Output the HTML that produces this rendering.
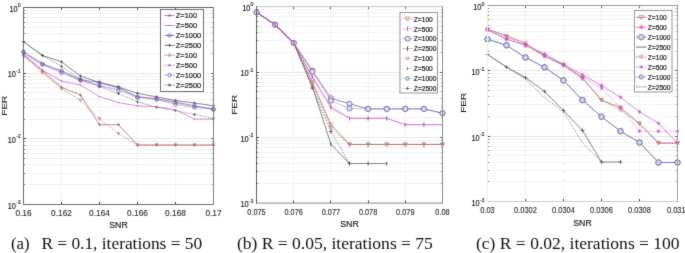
<!DOCTYPE html>
<html><head><meta charset="utf-8"><title>FER vs SNR</title>
<style>html,body{margin:0;padding:0;background:#fff;}body{width:685px;height:253px;overflow:hidden;}svg{display:block;}</style>
</head><body>
<div id="fig">
<svg width="685" height="253" viewBox="0 0 685 253">
<defs><filter id="bl" x="0" y="0" width="685" height="253" filterUnits="userSpaceOnUse" color-interpolation-filters="sRGB"><feConvolveMatrix order="3" kernelMatrix="0.0113 0.0838 0.0113 0.0838 0.6193 0.0838 0.0113 0.0838 0.0113" edgeMode="duplicate" preserveAlpha="true"/></filter></defs>
<g filter="url(#bl)">
<rect width="685" height="253" fill="#fff"/>
<g><line x1="24" y1="53.50" x2="213.50" y2="53.50" stroke="#e3e3e3" stroke-width="1" stroke-dasharray="1 1"/>
<line x1="23.50" y1="53.50" x2="25.10" y2="53.50" stroke="#666" stroke-width="0.9"/>
<line x1="211.90" y1="53.50" x2="213.50" y2="53.50" stroke="#999" stroke-width="0.9"/>
<line x1="24" y1="41.50" x2="213.50" y2="41.50" stroke="#e3e3e3" stroke-width="1" stroke-dasharray="1 1"/>
<line x1="23.50" y1="41.50" x2="25.10" y2="41.50" stroke="#666" stroke-width="0.9"/>
<line x1="211.90" y1="41.50" x2="213.50" y2="41.50" stroke="#999" stroke-width="0.9"/>
<line x1="24" y1="33.50" x2="213.50" y2="33.50" stroke="#e3e3e3" stroke-width="1" stroke-dasharray="1 1"/>
<line x1="23.50" y1="33.50" x2="25.10" y2="33.50" stroke="#666" stroke-width="0.9"/>
<line x1="211.90" y1="33.50" x2="213.50" y2="33.50" stroke="#999" stroke-width="0.9"/>
<line x1="24" y1="27.50" x2="213.50" y2="27.50" stroke="#e3e3e3" stroke-width="1" stroke-dasharray="1 1"/>
<line x1="23.50" y1="27.50" x2="25.10" y2="27.50" stroke="#666" stroke-width="0.9"/>
<line x1="211.90" y1="27.50" x2="213.50" y2="27.50" stroke="#999" stroke-width="0.9"/>
<line x1="24" y1="22.50" x2="213.50" y2="22.50" stroke="#e3e3e3" stroke-width="1" stroke-dasharray="1 1"/>
<line x1="23.50" y1="22.50" x2="25.10" y2="22.50" stroke="#666" stroke-width="0.9"/>
<line x1="211.90" y1="22.50" x2="213.50" y2="22.50" stroke="#999" stroke-width="0.9"/>
<line x1="24" y1="17.50" x2="213.50" y2="17.50" stroke="#e3e3e3" stroke-width="1" stroke-dasharray="1 1"/>
<line x1="23.50" y1="17.50" x2="25.10" y2="17.50" stroke="#666" stroke-width="0.9"/>
<line x1="211.90" y1="17.50" x2="213.50" y2="17.50" stroke="#999" stroke-width="0.9"/>
<line x1="24" y1="13.50" x2="213.50" y2="13.50" stroke="#e3e3e3" stroke-width="1" stroke-dasharray="1 1"/>
<line x1="23.50" y1="13.50" x2="25.10" y2="13.50" stroke="#666" stroke-width="0.9"/>
<line x1="211.90" y1="13.50" x2="213.50" y2="13.50" stroke="#999" stroke-width="0.9"/>
<line x1="24" y1="10.50" x2="213.50" y2="10.50" stroke="#e3e3e3" stroke-width="1" stroke-dasharray="1 1"/>
<line x1="23.50" y1="10.50" x2="25.10" y2="10.50" stroke="#666" stroke-width="0.9"/>
<line x1="211.90" y1="10.50" x2="213.50" y2="10.50" stroke="#999" stroke-width="0.9"/>
<line x1="24" y1="119.50" x2="213.50" y2="119.50" stroke="#e3e3e3" stroke-width="1" stroke-dasharray="1 1"/>
<line x1="23.50" y1="119.50" x2="25.10" y2="119.50" stroke="#666" stroke-width="0.9"/>
<line x1="211.90" y1="119.50" x2="213.50" y2="119.50" stroke="#999" stroke-width="0.9"/>
<line x1="24" y1="107.50" x2="213.50" y2="107.50" stroke="#e3e3e3" stroke-width="1" stroke-dasharray="1 1"/>
<line x1="23.50" y1="107.50" x2="25.10" y2="107.50" stroke="#666" stroke-width="0.9"/>
<line x1="211.90" y1="107.50" x2="213.50" y2="107.50" stroke="#999" stroke-width="0.9"/>
<line x1="24" y1="99.50" x2="213.50" y2="99.50" stroke="#e3e3e3" stroke-width="1" stroke-dasharray="1 1"/>
<line x1="23.50" y1="99.50" x2="25.10" y2="99.50" stroke="#666" stroke-width="0.9"/>
<line x1="211.90" y1="99.50" x2="213.50" y2="99.50" stroke="#999" stroke-width="0.9"/>
<line x1="24" y1="92.50" x2="213.50" y2="92.50" stroke="#e3e3e3" stroke-width="1" stroke-dasharray="1 1"/>
<line x1="23.50" y1="92.50" x2="25.10" y2="92.50" stroke="#666" stroke-width="0.9"/>
<line x1="211.90" y1="92.50" x2="213.50" y2="92.50" stroke="#999" stroke-width="0.9"/>
<line x1="24" y1="87.50" x2="213.50" y2="87.50" stroke="#e3e3e3" stroke-width="1" stroke-dasharray="1 1"/>
<line x1="23.50" y1="87.50" x2="25.10" y2="87.50" stroke="#666" stroke-width="0.9"/>
<line x1="211.90" y1="87.50" x2="213.50" y2="87.50" stroke="#999" stroke-width="0.9"/>
<line x1="24" y1="83.50" x2="213.50" y2="83.50" stroke="#e3e3e3" stroke-width="1" stroke-dasharray="1 1"/>
<line x1="23.50" y1="83.50" x2="25.10" y2="83.50" stroke="#666" stroke-width="0.9"/>
<line x1="211.90" y1="83.50" x2="213.50" y2="83.50" stroke="#999" stroke-width="0.9"/>
<line x1="24" y1="79.50" x2="213.50" y2="79.50" stroke="#e3e3e3" stroke-width="1" stroke-dasharray="1 1"/>
<line x1="23.50" y1="79.50" x2="25.10" y2="79.50" stroke="#666" stroke-width="0.9"/>
<line x1="211.90" y1="79.50" x2="213.50" y2="79.50" stroke="#999" stroke-width="0.9"/>
<line x1="24" y1="76.50" x2="213.50" y2="76.50" stroke="#e3e3e3" stroke-width="1" stroke-dasharray="1 1"/>
<line x1="23.50" y1="76.50" x2="25.10" y2="76.50" stroke="#666" stroke-width="0.9"/>
<line x1="211.90" y1="76.50" x2="213.50" y2="76.50" stroke="#999" stroke-width="0.9"/>
<line x1="24" y1="184.50" x2="213.50" y2="184.50" stroke="#e3e3e3" stroke-width="1" stroke-dasharray="1 1"/>
<line x1="23.50" y1="184.50" x2="25.10" y2="184.50" stroke="#666" stroke-width="0.9"/>
<line x1="211.90" y1="184.50" x2="213.50" y2="184.50" stroke="#999" stroke-width="0.9"/>
<line x1="24" y1="173.50" x2="213.50" y2="173.50" stroke="#e3e3e3" stroke-width="1" stroke-dasharray="1 1"/>
<line x1="23.50" y1="173.50" x2="25.10" y2="173.50" stroke="#666" stroke-width="0.9"/>
<line x1="211.90" y1="173.50" x2="213.50" y2="173.50" stroke="#999" stroke-width="0.9"/>
<line x1="24" y1="164.50" x2="213.50" y2="164.50" stroke="#e3e3e3" stroke-width="1" stroke-dasharray="1 1"/>
<line x1="23.50" y1="164.50" x2="25.10" y2="164.50" stroke="#666" stroke-width="0.9"/>
<line x1="211.90" y1="164.50" x2="213.50" y2="164.50" stroke="#999" stroke-width="0.9"/>
<line x1="24" y1="158.50" x2="213.50" y2="158.50" stroke="#e3e3e3" stroke-width="1" stroke-dasharray="1 1"/>
<line x1="23.50" y1="158.50" x2="25.10" y2="158.50" stroke="#666" stroke-width="0.9"/>
<line x1="211.90" y1="158.50" x2="213.50" y2="158.50" stroke="#999" stroke-width="0.9"/>
<line x1="24" y1="153.50" x2="213.50" y2="153.50" stroke="#e3e3e3" stroke-width="1" stroke-dasharray="1 1"/>
<line x1="23.50" y1="153.50" x2="25.10" y2="153.50" stroke="#666" stroke-width="0.9"/>
<line x1="211.90" y1="153.50" x2="213.50" y2="153.50" stroke="#999" stroke-width="0.9"/>
<line x1="24" y1="149.50" x2="213.50" y2="149.50" stroke="#e3e3e3" stroke-width="1" stroke-dasharray="1 1"/>
<line x1="23.50" y1="149.50" x2="25.10" y2="149.50" stroke="#666" stroke-width="0.9"/>
<line x1="211.90" y1="149.50" x2="213.50" y2="149.50" stroke="#999" stroke-width="0.9"/>
<line x1="24" y1="145.50" x2="213.50" y2="145.50" stroke="#e3e3e3" stroke-width="1" stroke-dasharray="1 1"/>
<line x1="23.50" y1="145.50" x2="25.10" y2="145.50" stroke="#666" stroke-width="0.9"/>
<line x1="211.90" y1="145.50" x2="213.50" y2="145.50" stroke="#999" stroke-width="0.9"/>
<line x1="24" y1="141.50" x2="213.50" y2="141.50" stroke="#e3e3e3" stroke-width="1" stroke-dasharray="1 1"/>
<line x1="23.50" y1="141.50" x2="25.10" y2="141.50" stroke="#666" stroke-width="0.9"/>
<line x1="211.90" y1="141.50" x2="213.50" y2="141.50" stroke="#999" stroke-width="0.9"/>
<line x1="23.50" y1="73.50" x2="213.50" y2="73.50" stroke="#e6e6e6" stroke-width="1"/>
<line x1="23.50" y1="73.50" x2="26.00" y2="73.50" stroke="#444" stroke-width="1"/>
<line x1="211.00" y1="73.50" x2="213.50" y2="73.50" stroke="#666" stroke-width="1"/>
<line x1="23.50" y1="138.50" x2="213.50" y2="138.50" stroke="#e6e6e6" stroke-width="1"/>
<line x1="23.50" y1="138.50" x2="26.00" y2="138.50" stroke="#444" stroke-width="1"/>
<line x1="211.00" y1="138.50" x2="213.50" y2="138.50" stroke="#666" stroke-width="1"/>
<line x1="61.50" y1="7.50" x2="61.50" y2="204.50" stroke="#f3f3f3" stroke-width="1"/>
<line x1="61.50" y1="202.00" x2="61.50" y2="204.50" stroke="#444" stroke-width="1"/>
<line x1="61.50" y1="7.50" x2="61.50" y2="10.00" stroke="#666" stroke-width="1"/>
<line x1="99.50" y1="7.50" x2="99.50" y2="204.50" stroke="#f3f3f3" stroke-width="1"/>
<line x1="99.50" y1="202.00" x2="99.50" y2="204.50" stroke="#444" stroke-width="1"/>
<line x1="99.50" y1="7.50" x2="99.50" y2="10.00" stroke="#666" stroke-width="1"/>
<line x1="137.50" y1="7.50" x2="137.50" y2="204.50" stroke="#f3f3f3" stroke-width="1"/>
<line x1="137.50" y1="202.00" x2="137.50" y2="204.50" stroke="#444" stroke-width="1"/>
<line x1="137.50" y1="7.50" x2="137.50" y2="10.00" stroke="#666" stroke-width="1"/>
<line x1="175.50" y1="7.50" x2="175.50" y2="204.50" stroke="#f3f3f3" stroke-width="1"/>
<line x1="175.50" y1="202.00" x2="175.50" y2="204.50" stroke="#444" stroke-width="1"/>
<line x1="175.50" y1="7.50" x2="175.50" y2="10.00" stroke="#666" stroke-width="1"/>
<polyline points="23.50,41.80 42.50,55.50 61.50,61.80 80.50,76.00 99.50,82.60 118.50,87.10 137.50,93.30 156.50,96.90 175.50,100.50 194.50,103.00 213.50,105.80" fill="none" stroke="#505050" stroke-width="0.7"/>
<path d="M22.00,41.80H25.00M23.50,40.30V43.30" stroke="#505050" stroke-width="0.8"/>
<path d="M41.00,55.50H44.00M42.50,54.00V57.00" stroke="#505050" stroke-width="0.8"/>
<path d="M60.00,61.80H63.00M61.50,60.30V63.30" stroke="#505050" stroke-width="0.8"/>
<path d="M79.00,76.00H82.00M80.50,74.50V77.50" stroke="#505050" stroke-width="0.8"/>
<path d="M98.00,82.60H101.00M99.50,81.10V84.10" stroke="#505050" stroke-width="0.8"/>
<path d="M117.00,87.10H120.00M118.50,85.60V88.60" stroke="#505050" stroke-width="0.8"/>
<path d="M136.00,93.30H139.00M137.50,91.80V94.80" stroke="#505050" stroke-width="0.8"/>
<path d="M155.00,96.90H158.00M156.50,95.40V98.40" stroke="#505050" stroke-width="0.8"/>
<path d="M174.00,100.50H177.00M175.50,99.00V102.00" stroke="#505050" stroke-width="0.8"/>
<path d="M193.00,103.00H196.00M194.50,101.50V104.50" stroke="#505050" stroke-width="0.8"/>
<path d="M212.00,105.80H215.00M213.50,104.30V107.30" stroke="#505050" stroke-width="0.8"/>
<polyline points="23.50,41.80 42.50,55.50 61.50,66.30 80.50,79.00 99.50,86.50 118.50,93.60 137.50,101.90 156.50,107.20 175.50,110.50 194.50,114.50 213.50,118.30" fill="none" stroke="#505050" stroke-width="0.6" stroke-dasharray="1.6 1.2"/>
<path d="M22.00,41.80H25.00M23.50,40.30V43.30" stroke="#505050" stroke-width="0.8"/>
<path d="M41.00,55.50H44.00M42.50,54.00V57.00" stroke="#505050" stroke-width="0.8"/>
<path d="M60.00,66.30H63.00M61.50,64.80V67.80" stroke="#505050" stroke-width="0.8"/>
<path d="M79.00,79.00H82.00M80.50,77.50V80.50" stroke="#505050" stroke-width="0.8"/>
<path d="M98.00,86.50H101.00M99.50,85.00V88.00" stroke="#505050" stroke-width="0.8"/>
<path d="M117.00,93.60H120.00M118.50,92.10V95.10" stroke="#505050" stroke-width="0.8"/>
<path d="M136.00,101.90H139.00M137.50,100.40V103.40" stroke="#505050" stroke-width="0.8"/>
<path d="M155.00,107.20H158.00M156.50,105.70V108.70" stroke="#505050" stroke-width="0.8"/>
<path d="M174.00,110.50H177.00M175.50,109.00V112.00" stroke="#505050" stroke-width="0.8"/>
<path d="M193.00,114.50H196.00M194.50,113.00V116.00" stroke="#505050" stroke-width="0.8"/>
<path d="M212.00,118.30H215.00M213.50,116.80V119.80" stroke="#505050" stroke-width="0.8"/>
<polyline points="23.50,54.80 42.50,70.90 61.50,87.30 80.50,95.10 99.50,124.70 118.50,124.70 137.50,145.00 156.50,145.00 175.50,145.00 194.50,145.00 213.50,145.00" fill="none" stroke="#a85a58" stroke-width="0.7"/>
<path d="M22.00,54.80H25.00M23.50,53.30V56.30" stroke="#a85a58" stroke-width="0.8"/>
<path d="M41.00,70.90H44.00M42.50,69.40V72.40" stroke="#a85a58" stroke-width="0.8"/>
<path d="M60.00,87.30H63.00M61.50,85.80V88.80" stroke="#a85a58" stroke-width="0.8"/>
<path d="M79.00,95.10H82.00M80.50,93.60V96.60" stroke="#a85a58" stroke-width="0.8"/>
<path d="M98.00,124.70H101.00M99.50,123.20V126.20" stroke="#a85a58" stroke-width="0.8"/>
<path d="M117.00,124.70H120.00M118.50,123.20V126.20" stroke="#a85a58" stroke-width="0.8"/>
<path d="M136.00,145.00H139.00M137.50,143.50V146.50" stroke="#a85a58" stroke-width="0.8"/>
<path d="M155.00,145.00H158.00M156.50,143.50V146.50" stroke="#a85a58" stroke-width="0.8"/>
<path d="M174.00,145.00H177.00M175.50,143.50V146.50" stroke="#a85a58" stroke-width="0.8"/>
<path d="M193.00,145.00H196.00M194.50,143.50V146.50" stroke="#a85a58" stroke-width="0.8"/>
<path d="M212.00,145.00H215.00M213.50,143.50V146.50" stroke="#a85a58" stroke-width="0.8"/>
<polyline points="23.50,56.30 42.50,72.80 61.50,88.70 80.50,100.30 99.50,118.80 118.50,133.70 137.50,145.00 156.50,145.00 175.50,145.00 194.50,145.00 213.50,145.00" fill="none" stroke="#a85a58" stroke-width="0.6" stroke-dasharray="1.6 1.2"/>
<path d="M22.00,55.10L25.00,55.10L23.50,57.80Z" fill="none" stroke="#c47a78" stroke-width="0.7"/>
<path d="M41.00,71.60L44.00,71.60L42.50,74.30Z" fill="none" stroke="#c47a78" stroke-width="0.7"/>
<path d="M60.00,87.50L63.00,87.50L61.50,90.20Z" fill="none" stroke="#c47a78" stroke-width="0.7"/>
<path d="M79.00,99.10L82.00,99.10L80.50,101.80Z" fill="none" stroke="#c47a78" stroke-width="0.7"/>
<path d="M98.00,117.60L101.00,117.60L99.50,120.30Z" fill="none" stroke="#c47a78" stroke-width="0.7"/>
<path d="M117.00,132.50L120.00,132.50L118.50,135.20Z" fill="none" stroke="#c47a78" stroke-width="0.7"/>
<path d="M136.00,143.80L139.00,143.80L137.50,146.50Z" fill="none" stroke="#c47a78" stroke-width="0.7"/>
<path d="M155.00,143.80L158.00,143.80L156.50,146.50Z" fill="none" stroke="#c47a78" stroke-width="0.7"/>
<path d="M174.00,143.80L177.00,143.80L175.50,146.50Z" fill="none" stroke="#c47a78" stroke-width="0.7"/>
<path d="M193.00,143.80L196.00,143.80L194.50,146.50Z" fill="none" stroke="#c47a78" stroke-width="0.7"/>
<path d="M212.00,143.80L215.00,143.80L213.50,146.50Z" fill="none" stroke="#c47a78" stroke-width="0.7"/>
<polyline points="23.50,52.10 42.50,63.80 61.50,70.70 80.50,79.70 99.50,82.60 118.50,87.70 137.50,96.90 156.50,98.70 175.50,102.20 194.50,105.80 213.50,109.40" fill="none" stroke="#5a5aa4" stroke-width="0.7"/>
<circle cx="23.50" cy="52.10" r="1.80" fill="none" stroke="#5a5aa4" stroke-width="0.7"/>
<circle cx="42.50" cy="63.80" r="1.80" fill="none" stroke="#5a5aa4" stroke-width="0.7"/>
<circle cx="61.50" cy="70.70" r="1.80" fill="none" stroke="#5a5aa4" stroke-width="0.7"/>
<circle cx="80.50" cy="79.70" r="1.80" fill="none" stroke="#5a5aa4" stroke-width="0.7"/>
<circle cx="99.50" cy="82.60" r="1.80" fill="none" stroke="#5a5aa4" stroke-width="0.7"/>
<circle cx="118.50" cy="87.70" r="1.80" fill="none" stroke="#5a5aa4" stroke-width="0.7"/>
<circle cx="137.50" cy="96.90" r="1.80" fill="none" stroke="#5a5aa4" stroke-width="0.7"/>
<circle cx="156.50" cy="98.70" r="1.80" fill="none" stroke="#5a5aa4" stroke-width="0.7"/>
<circle cx="175.50" cy="102.20" r="1.80" fill="none" stroke="#5a5aa4" stroke-width="0.7"/>
<circle cx="194.50" cy="105.80" r="1.80" fill="none" stroke="#5a5aa4" stroke-width="0.7"/>
<circle cx="213.50" cy="109.40" r="1.80" fill="none" stroke="#5a5aa4" stroke-width="0.7"/>
<polyline points="23.50,52.10 42.50,64.50 61.50,72.80 80.50,80.50 99.50,85.80 118.50,90.60 137.50,97.50 156.50,99.50 175.50,104.50 194.50,107.50 213.50,109.40" fill="none" stroke="#5a5aa4" stroke-width="0.6" stroke-dasharray="1.6 1.2"/>
<circle cx="23.50" cy="52.10" r="1.80" fill="none" stroke="#5a5aa4" stroke-width="0.7"/>
<circle cx="42.50" cy="64.50" r="1.80" fill="none" stroke="#5a5aa4" stroke-width="0.7"/>
<circle cx="61.50" cy="72.80" r="1.80" fill="none" stroke="#5a5aa4" stroke-width="0.7"/>
<circle cx="80.50" cy="80.50" r="1.80" fill="none" stroke="#5a5aa4" stroke-width="0.7"/>
<circle cx="99.50" cy="85.80" r="1.80" fill="none" stroke="#5a5aa4" stroke-width="0.7"/>
<circle cx="118.50" cy="90.60" r="1.80" fill="none" stroke="#5a5aa4" stroke-width="0.7"/>
<circle cx="137.50" cy="97.50" r="1.80" fill="none" stroke="#5a5aa4" stroke-width="0.7"/>
<circle cx="156.50" cy="99.50" r="1.80" fill="none" stroke="#5a5aa4" stroke-width="0.7"/>
<circle cx="175.50" cy="104.50" r="1.80" fill="none" stroke="#5a5aa4" stroke-width="0.7"/>
<circle cx="194.50" cy="107.50" r="1.80" fill="none" stroke="#5a5aa4" stroke-width="0.7"/>
<circle cx="213.50" cy="109.40" r="1.80" fill="none" stroke="#5a5aa4" stroke-width="0.7"/>
<polyline points="23.50,54.80 42.50,70.10 61.50,81.10 80.50,85.00 99.50,96.70 118.50,102.60 137.50,105.80 156.50,106.70 175.50,109.90 194.50,119.10 213.50,119.10" fill="none" stroke="#cc55cc" stroke-width="0.7"/>
<circle cx="23.50" cy="54.80" r="0.75" fill="#cc55cc"/>
<circle cx="42.50" cy="70.10" r="0.75" fill="#cc55cc"/>
<circle cx="61.50" cy="81.10" r="0.75" fill="#cc55cc"/>
<circle cx="80.50" cy="85.00" r="0.75" fill="#cc55cc"/>
<circle cx="99.50" cy="96.70" r="0.75" fill="#cc55cc"/>
<circle cx="118.50" cy="102.60" r="0.75" fill="#cc55cc"/>
<circle cx="137.50" cy="105.80" r="0.75" fill="#cc55cc"/>
<circle cx="156.50" cy="106.70" r="0.75" fill="#cc55cc"/>
<circle cx="175.50" cy="109.90" r="0.75" fill="#cc55cc"/>
<circle cx="194.50" cy="119.10" r="0.75" fill="#cc55cc"/>
<circle cx="213.50" cy="119.10" r="0.75" fill="#cc55cc"/>
<polyline points="23.50,54.00 42.50,65.00 61.50,72.00 80.50,80.80 99.50,85.20 118.50,89.60 137.50,96.50 156.50,99.00 175.50,103.50 194.50,106.50 213.50,108.50" fill="none" stroke="#cc55cc" stroke-width="0.6" stroke-dasharray="1.6 1.2"/>
<circle cx="23.50" cy="54.00" r="0.75" fill="#cc55cc"/>
<circle cx="42.50" cy="65.00" r="0.75" fill="#cc55cc"/>
<circle cx="61.50" cy="72.00" r="0.75" fill="#cc55cc"/>
<circle cx="80.50" cy="80.80" r="0.75" fill="#cc55cc"/>
<circle cx="99.50" cy="85.20" r="0.75" fill="#cc55cc"/>
<circle cx="118.50" cy="89.60" r="0.75" fill="#cc55cc"/>
<circle cx="137.50" cy="96.50" r="0.75" fill="#cc55cc"/>
<circle cx="156.50" cy="99.00" r="0.75" fill="#cc55cc"/>
<circle cx="175.50" cy="103.50" r="0.75" fill="#cc55cc"/>
<circle cx="194.50" cy="106.50" r="0.75" fill="#cc55cc"/>
<circle cx="213.50" cy="108.50" r="0.75" fill="#cc55cc"/>
<line x1="23.50" y1="7.50" x2="213.50" y2="7.50" stroke="#606060" stroke-width="1"/>
<line x1="23.50" y1="204.50" x2="213.50" y2="204.50" stroke="#6a6a6a" stroke-width="1"/>
<line x1="213.50" y1="7.00" x2="213.50" y2="205.00" stroke="#808080" stroke-width="1"/>
<line x1="23.50" y1="7.00" x2="23.50" y2="205.00" stroke="#6a6a6a" stroke-width="1"/>
<text x="23.50" y="216.00" text-anchor="middle" font-size="8.3" font-family="'Liberation Sans', Arial, sans-serif" fill="#2a2a2a" stroke="#2a2a2a" stroke-width="0.12" transform="translate(23.50,0) scale(1.0,1) translate(-23.50,0)">0.16</text>
<text x="61.50" y="216.00" text-anchor="middle" font-size="8.3" font-family="'Liberation Sans', Arial, sans-serif" fill="#2a2a2a" stroke="#2a2a2a" stroke-width="0.12" transform="translate(61.50,0) scale(1.0,1) translate(-61.50,0)">0.162</text>
<text x="99.50" y="216.00" text-anchor="middle" font-size="8.3" font-family="'Liberation Sans', Arial, sans-serif" fill="#2a2a2a" stroke="#2a2a2a" stroke-width="0.12" transform="translate(99.50,0) scale(1.0,1) translate(-99.50,0)">0.164</text>
<text x="137.50" y="216.00" text-anchor="middle" font-size="8.3" font-family="'Liberation Sans', Arial, sans-serif" fill="#2a2a2a" stroke="#2a2a2a" stroke-width="0.12" transform="translate(137.50,0) scale(1.0,1) translate(-137.50,0)">0.166</text>
<text x="175.50" y="216.00" text-anchor="middle" font-size="8.3" font-family="'Liberation Sans', Arial, sans-serif" fill="#2a2a2a" stroke="#2a2a2a" stroke-width="0.12" transform="translate(175.50,0) scale(1.0,1) translate(-175.50,0)">0.168</text>
<text x="213.50" y="216.00" text-anchor="middle" font-size="8.3" font-family="'Liberation Sans', Arial, sans-serif" fill="#2a2a2a" stroke="#2a2a2a" stroke-width="0.12" transform="translate(213.50,0) scale(1.0,1) translate(-213.50,0)">0.17</text>
<text x="20.60" y="11.60" text-anchor="end" font-size="8.2" font-family="'Liberation Sans', Arial, sans-serif" fill="#1a1a1a" stroke="#1a1a1a" stroke-width="0.15" transform="translate(20.60,0) scale(0.9,1) translate(-20.60,0)">10<tspan font-size="5.8" dy="-4.5">0</tspan></text>
<text x="20.60" y="77.27" text-anchor="end" font-size="8.2" font-family="'Liberation Sans', Arial, sans-serif" fill="#1a1a1a" stroke="#1a1a1a" stroke-width="0.15" transform="translate(20.60,0) scale(0.9,1) translate(-20.60,0)">10<tspan font-size="5.8" dy="-4.5">-1</tspan></text>
<text x="20.60" y="142.93" text-anchor="end" font-size="8.2" font-family="'Liberation Sans', Arial, sans-serif" fill="#1a1a1a" stroke="#1a1a1a" stroke-width="0.15" transform="translate(20.60,0) scale(0.9,1) translate(-20.60,0)">10<tspan font-size="5.8" dy="-4.5">-2</tspan></text>
<text x="20.60" y="208.60" text-anchor="end" font-size="8.2" font-family="'Liberation Sans', Arial, sans-serif" fill="#1a1a1a" stroke="#1a1a1a" stroke-width="0.15" transform="translate(20.60,0) scale(0.9,1) translate(-20.60,0)">10<tspan font-size="5.8" dy="-4.5">-3</tspan></text>
<text x="118.50" y="227.60" text-anchor="middle" font-size="8.8" font-family="'Liberation Sans', Arial, sans-serif" fill="#1a1a1a" stroke="#1a1a1a" stroke-width="0.15">SNR</text>
<text x="0" y="0" text-anchor="middle" font-size="10" font-family="'Liberation Sans', Arial, sans-serif" fill="#1a1a1a" stroke="#1a1a1a" stroke-width="0.15" transform="translate(6.90,105.70) rotate(-90) scale(1,0.8)">FER</text>
<rect x="160.50" y="9.50" width="43.00" height="82.00" fill="#fff" stroke="#606060" stroke-width="0.9"/>
<line x1="164.50" y1="15.60" x2="174.50" y2="15.60" stroke="#a85a58" stroke-width="0.8" stroke-opacity="1.0"/>
<path d="M167.90,15.60H171.10M169.50,14.00V17.20" stroke="#a85a58" stroke-width="0.8"/>
<text x="175.80" y="18.40" font-size="7.9" font-family="'Liberation Sans', Arial, sans-serif" fill="#1a1a1a" stroke="#1a1a1a" stroke-width="0.22" transform="translate(175.80,0) scale(0.94,1) translate(-175.80,0)">Z=100</text>
<line x1="164.50" y1="25.52" x2="174.50" y2="25.52" stroke="#cc55cc" stroke-width="0.8" stroke-opacity="1.0"/>
<circle cx="169.50" cy="25.52" r="0.80" fill="#cc55cc"/>
<text x="175.80" y="28.32" font-size="7.9" font-family="'Liberation Sans', Arial, sans-serif" fill="#1a1a1a" stroke="#1a1a1a" stroke-width="0.22" transform="translate(175.80,0) scale(0.94,1) translate(-175.80,0)">Z=500</text>
<line x1="164.50" y1="35.44" x2="174.50" y2="35.44" stroke="#5a5aa4" stroke-width="0.8" stroke-opacity="1.0"/>
<circle cx="169.50" cy="35.44" r="1.80" fill="none" stroke="#5a5aa4" stroke-width="0.7"/>
<text x="175.80" y="38.24" font-size="7.9" font-family="'Liberation Sans', Arial, sans-serif" fill="#1a1a1a" stroke="#1a1a1a" stroke-width="0.22" transform="translate(175.80,0) scale(0.94,1) translate(-175.80,0)">Z=1000</text>
<line x1="164.50" y1="45.36" x2="174.50" y2="45.36" stroke="#505050" stroke-width="0.8" stroke-opacity="1.0"/>
<path d="M167.90,45.36H171.10M169.50,43.76V46.96" stroke="#505050" stroke-width="0.8"/>
<text x="175.80" y="48.16" font-size="7.9" font-family="'Liberation Sans', Arial, sans-serif" fill="#1a1a1a" stroke="#1a1a1a" stroke-width="0.22" transform="translate(175.80,0) scale(0.94,1) translate(-175.80,0)">Z=2500</text>
<line x1="164.50" y1="55.28" x2="174.50" y2="55.28" stroke="#a85a58" stroke-width="0.8" stroke-opacity="1.0" stroke-dasharray="1.6 1.2"/>
<path d="M167.90,54.00L171.10,54.00L169.50,56.88Z" fill="none" stroke="#c47a78" stroke-width="0.7"/>
<text x="175.80" y="58.08" font-size="7.9" font-family="'Liberation Sans', Arial, sans-serif" fill="#1a1a1a" stroke="#1a1a1a" stroke-width="0.22" transform="translate(175.80,0) scale(0.94,1) translate(-175.80,0)">Z=100</text>
<line x1="164.50" y1="65.20" x2="174.50" y2="65.20" stroke="#cc55cc" stroke-width="0.8" stroke-opacity="1.0" stroke-dasharray="1.6 1.2"/>
<path d="M167.90,65.20H171.10M169.50,63.60V66.80" stroke="#cc55cc" stroke-width="0.8"/>
<text x="175.80" y="68.00" font-size="7.9" font-family="'Liberation Sans', Arial, sans-serif" fill="#1a1a1a" stroke="#1a1a1a" stroke-width="0.22" transform="translate(175.80,0) scale(0.94,1) translate(-175.80,0)">Z=500</text>
<line x1="164.50" y1="75.12" x2="174.50" y2="75.12" stroke="#5a5aa4" stroke-width="0.8" stroke-opacity="1.0" stroke-dasharray="1.6 1.2"/>
<circle cx="169.50" cy="75.12" r="1.80" fill="none" stroke="#5a5aa4" stroke-width="0.7"/>
<text x="175.80" y="77.92" font-size="7.9" font-family="'Liberation Sans', Arial, sans-serif" fill="#1a1a1a" stroke="#1a1a1a" stroke-width="0.22" transform="translate(175.80,0) scale(0.94,1) translate(-175.80,0)">Z=1000</text>
<line x1="164.50" y1="85.04" x2="174.50" y2="85.04" stroke="#505050" stroke-width="0.8" stroke-opacity="1.0" stroke-dasharray="1.6 1.2"/>
<path d="M167.90,85.04H171.10M169.50,83.44V86.64" stroke="#505050" stroke-width="0.8"/>
<text x="175.80" y="87.84" font-size="7.9" font-family="'Liberation Sans', Arial, sans-serif" fill="#1a1a1a" stroke="#1a1a1a" stroke-width="0.22" transform="translate(175.80,0) scale(0.94,1) translate(-175.80,0)">Z=2500</text></g>
<g><line x1="257" y1="52.50" x2="442.50" y2="52.50" stroke="#e3e3e3" stroke-width="1" stroke-dasharray="1 1"/>
<line x1="256.50" y1="52.50" x2="258.10" y2="52.50" stroke="#666" stroke-width="0.9"/>
<line x1="440.90" y1="52.50" x2="442.50" y2="52.50" stroke="#999" stroke-width="0.9"/>
<line x1="257" y1="40.50" x2="442.50" y2="40.50" stroke="#e3e3e3" stroke-width="1" stroke-dasharray="1 1"/>
<line x1="256.50" y1="40.50" x2="258.10" y2="40.50" stroke="#666" stroke-width="0.9"/>
<line x1="440.90" y1="40.50" x2="442.50" y2="40.50" stroke="#999" stroke-width="0.9"/>
<line x1="257" y1="32.50" x2="442.50" y2="32.50" stroke="#e3e3e3" stroke-width="1" stroke-dasharray="1 1"/>
<line x1="256.50" y1="32.50" x2="258.10" y2="32.50" stroke="#666" stroke-width="0.9"/>
<line x1="440.90" y1="32.50" x2="442.50" y2="32.50" stroke="#999" stroke-width="0.9"/>
<line x1="257" y1="26.50" x2="442.50" y2="26.50" stroke="#e3e3e3" stroke-width="1" stroke-dasharray="1 1"/>
<line x1="256.50" y1="26.50" x2="258.10" y2="26.50" stroke="#666" stroke-width="0.9"/>
<line x1="440.90" y1="26.50" x2="442.50" y2="26.50" stroke="#999" stroke-width="0.9"/>
<line x1="257" y1="21.50" x2="442.50" y2="21.50" stroke="#e3e3e3" stroke-width="1" stroke-dasharray="1 1"/>
<line x1="256.50" y1="21.50" x2="258.10" y2="21.50" stroke="#666" stroke-width="0.9"/>
<line x1="440.90" y1="21.50" x2="442.50" y2="21.50" stroke="#999" stroke-width="0.9"/>
<line x1="257" y1="16.50" x2="442.50" y2="16.50" stroke="#e3e3e3" stroke-width="1" stroke-dasharray="1 1"/>
<line x1="256.50" y1="16.50" x2="258.10" y2="16.50" stroke="#666" stroke-width="0.9"/>
<line x1="440.90" y1="16.50" x2="442.50" y2="16.50" stroke="#999" stroke-width="0.9"/>
<line x1="257" y1="12.50" x2="442.50" y2="12.50" stroke="#e3e3e3" stroke-width="1" stroke-dasharray="1 1"/>
<line x1="256.50" y1="12.50" x2="258.10" y2="12.50" stroke="#666" stroke-width="0.9"/>
<line x1="440.90" y1="12.50" x2="442.50" y2="12.50" stroke="#999" stroke-width="0.9"/>
<line x1="257" y1="9.50" x2="442.50" y2="9.50" stroke="#e3e3e3" stroke-width="1" stroke-dasharray="1 1"/>
<line x1="256.50" y1="9.50" x2="258.10" y2="9.50" stroke="#666" stroke-width="0.9"/>
<line x1="440.90" y1="9.50" x2="442.50" y2="9.50" stroke="#999" stroke-width="0.9"/>
<line x1="257" y1="117.50" x2="442.50" y2="117.50" stroke="#e3e3e3" stroke-width="1" stroke-dasharray="1 1"/>
<line x1="256.50" y1="117.50" x2="258.10" y2="117.50" stroke="#666" stroke-width="0.9"/>
<line x1="440.90" y1="117.50" x2="442.50" y2="117.50" stroke="#999" stroke-width="0.9"/>
<line x1="257" y1="106.50" x2="442.50" y2="106.50" stroke="#e3e3e3" stroke-width="1" stroke-dasharray="1 1"/>
<line x1="256.50" y1="106.50" x2="258.10" y2="106.50" stroke="#666" stroke-width="0.9"/>
<line x1="440.90" y1="106.50" x2="442.50" y2="106.50" stroke="#999" stroke-width="0.9"/>
<line x1="257" y1="98.50" x2="442.50" y2="98.50" stroke="#e3e3e3" stroke-width="1" stroke-dasharray="1 1"/>
<line x1="256.50" y1="98.50" x2="258.10" y2="98.50" stroke="#666" stroke-width="0.9"/>
<line x1="440.90" y1="98.50" x2="442.50" y2="98.50" stroke="#999" stroke-width="0.9"/>
<line x1="257" y1="91.50" x2="442.50" y2="91.50" stroke="#e3e3e3" stroke-width="1" stroke-dasharray="1 1"/>
<line x1="256.50" y1="91.50" x2="258.10" y2="91.50" stroke="#666" stroke-width="0.9"/>
<line x1="440.90" y1="91.50" x2="442.50" y2="91.50" stroke="#999" stroke-width="0.9"/>
<line x1="257" y1="86.50" x2="442.50" y2="86.50" stroke="#e3e3e3" stroke-width="1" stroke-dasharray="1 1"/>
<line x1="256.50" y1="86.50" x2="258.10" y2="86.50" stroke="#666" stroke-width="0.9"/>
<line x1="440.90" y1="86.50" x2="442.50" y2="86.50" stroke="#999" stroke-width="0.9"/>
<line x1="257" y1="82.50" x2="442.50" y2="82.50" stroke="#e3e3e3" stroke-width="1" stroke-dasharray="1 1"/>
<line x1="256.50" y1="82.50" x2="258.10" y2="82.50" stroke="#666" stroke-width="0.9"/>
<line x1="440.90" y1="82.50" x2="442.50" y2="82.50" stroke="#999" stroke-width="0.9"/>
<line x1="257" y1="78.50" x2="442.50" y2="78.50" stroke="#e3e3e3" stroke-width="1" stroke-dasharray="1 1"/>
<line x1="256.50" y1="78.50" x2="258.10" y2="78.50" stroke="#666" stroke-width="0.9"/>
<line x1="440.90" y1="78.50" x2="442.50" y2="78.50" stroke="#999" stroke-width="0.9"/>
<line x1="257" y1="75.50" x2="442.50" y2="75.50" stroke="#e3e3e3" stroke-width="1" stroke-dasharray="1 1"/>
<line x1="256.50" y1="75.50" x2="258.10" y2="75.50" stroke="#666" stroke-width="0.9"/>
<line x1="440.90" y1="75.50" x2="442.50" y2="75.50" stroke="#999" stroke-width="0.9"/>
<line x1="257" y1="183.50" x2="442.50" y2="183.50" stroke="#e3e3e3" stroke-width="1" stroke-dasharray="1 1"/>
<line x1="256.50" y1="183.50" x2="258.10" y2="183.50" stroke="#666" stroke-width="0.9"/>
<line x1="440.90" y1="183.50" x2="442.50" y2="183.50" stroke="#999" stroke-width="0.9"/>
<line x1="257" y1="171.50" x2="442.50" y2="171.50" stroke="#e3e3e3" stroke-width="1" stroke-dasharray="1 1"/>
<line x1="256.50" y1="171.50" x2="258.10" y2="171.50" stroke="#666" stroke-width="0.9"/>
<line x1="440.90" y1="171.50" x2="442.50" y2="171.50" stroke="#999" stroke-width="0.9"/>
<line x1="257" y1="163.50" x2="442.50" y2="163.50" stroke="#e3e3e3" stroke-width="1" stroke-dasharray="1 1"/>
<line x1="256.50" y1="163.50" x2="258.10" y2="163.50" stroke="#666" stroke-width="0.9"/>
<line x1="440.90" y1="163.50" x2="442.50" y2="163.50" stroke="#999" stroke-width="0.9"/>
<line x1="257" y1="157.50" x2="442.50" y2="157.50" stroke="#e3e3e3" stroke-width="1" stroke-dasharray="1 1"/>
<line x1="256.50" y1="157.50" x2="258.10" y2="157.50" stroke="#666" stroke-width="0.9"/>
<line x1="440.90" y1="157.50" x2="442.50" y2="157.50" stroke="#999" stroke-width="0.9"/>
<line x1="257" y1="152.50" x2="442.50" y2="152.50" stroke="#e3e3e3" stroke-width="1" stroke-dasharray="1 1"/>
<line x1="256.50" y1="152.50" x2="258.10" y2="152.50" stroke="#666" stroke-width="0.9"/>
<line x1="440.90" y1="152.50" x2="442.50" y2="152.50" stroke="#999" stroke-width="0.9"/>
<line x1="257" y1="147.50" x2="442.50" y2="147.50" stroke="#e3e3e3" stroke-width="1" stroke-dasharray="1 1"/>
<line x1="256.50" y1="147.50" x2="258.10" y2="147.50" stroke="#666" stroke-width="0.9"/>
<line x1="440.90" y1="147.50" x2="442.50" y2="147.50" stroke="#999" stroke-width="0.9"/>
<line x1="257" y1="143.50" x2="442.50" y2="143.50" stroke="#e3e3e3" stroke-width="1" stroke-dasharray="1 1"/>
<line x1="256.50" y1="143.50" x2="258.10" y2="143.50" stroke="#666" stroke-width="0.9"/>
<line x1="440.90" y1="143.50" x2="442.50" y2="143.50" stroke="#999" stroke-width="0.9"/>
<line x1="257" y1="140.50" x2="442.50" y2="140.50" stroke="#e3e3e3" stroke-width="1" stroke-dasharray="1 1"/>
<line x1="256.50" y1="140.50" x2="258.10" y2="140.50" stroke="#666" stroke-width="0.9"/>
<line x1="440.90" y1="140.50" x2="442.50" y2="140.50" stroke="#999" stroke-width="0.9"/>
<line x1="256.50" y1="72.50" x2="442.50" y2="72.50" stroke="#e6e6e6" stroke-width="1"/>
<line x1="256.50" y1="72.50" x2="259.00" y2="72.50" stroke="#444" stroke-width="1"/>
<line x1="440.00" y1="72.50" x2="442.50" y2="72.50" stroke="#666" stroke-width="1"/>
<line x1="256.50" y1="137.50" x2="442.50" y2="137.50" stroke="#e6e6e6" stroke-width="1"/>
<line x1="256.50" y1="137.50" x2="259.00" y2="137.50" stroke="#444" stroke-width="1"/>
<line x1="440.00" y1="137.50" x2="442.50" y2="137.50" stroke="#666" stroke-width="1"/>
<line x1="293.50" y1="6.60" x2="293.50" y2="203.10" stroke="#f3f3f3" stroke-width="1"/>
<line x1="293.50" y1="200.60" x2="293.50" y2="203.10" stroke="#444" stroke-width="1"/>
<line x1="293.50" y1="6.60" x2="293.50" y2="9.10" stroke="#666" stroke-width="1"/>
<line x1="330.50" y1="6.60" x2="330.50" y2="203.10" stroke="#f3f3f3" stroke-width="1"/>
<line x1="330.50" y1="200.60" x2="330.50" y2="203.10" stroke="#444" stroke-width="1"/>
<line x1="330.50" y1="6.60" x2="330.50" y2="9.10" stroke="#666" stroke-width="1"/>
<line x1="368.50" y1="6.60" x2="368.50" y2="203.10" stroke="#f3f3f3" stroke-width="1"/>
<line x1="368.50" y1="200.60" x2="368.50" y2="203.10" stroke="#444" stroke-width="1"/>
<line x1="368.50" y1="6.60" x2="368.50" y2="9.10" stroke="#666" stroke-width="1"/>
<line x1="405.50" y1="6.60" x2="405.50" y2="203.10" stroke="#f3f3f3" stroke-width="1"/>
<line x1="405.50" y1="200.60" x2="405.50" y2="203.10" stroke="#444" stroke-width="1"/>
<line x1="405.50" y1="6.60" x2="405.50" y2="9.10" stroke="#666" stroke-width="1"/>
<polyline points="256.50,12.30 275.10,24.70 293.70,43.00 312.30,86.50 330.90,144.20 349.50,163.50 368.10,163.50 386.70,163.50" fill="none" stroke="#505050" stroke-width="0.7"/>
<path d="M256.50,10.40V14.20" stroke="#505050" stroke-width="1"/>
<path d="M275.10,22.80V26.60" stroke="#505050" stroke-width="1"/>
<path d="M293.70,41.10V44.90" stroke="#505050" stroke-width="1"/>
<path d="M312.30,84.60V88.40" stroke="#505050" stroke-width="1"/>
<path d="M330.90,142.30V146.10" stroke="#505050" stroke-width="1"/>
<path d="M349.50,161.60V165.40" stroke="#505050" stroke-width="1"/>
<path d="M368.10,161.60V165.40" stroke="#505050" stroke-width="1"/>
<path d="M386.70,161.60V165.40" stroke="#505050" stroke-width="1"/>
<polyline points="256.50,12.30 275.10,24.70 293.70,43.00 312.30,88.00 330.90,131.60 349.50,163.50" fill="none" stroke="#505050" stroke-width="0.6" stroke-dasharray="1.6 1.2"/>
<path d="M254.60,12.30H258.40M256.50,10.40V14.20" stroke="#505050" stroke-width="0.8"/>
<path d="M273.20,24.70H277.00M275.10,22.80V26.60" stroke="#505050" stroke-width="0.8"/>
<path d="M291.80,43.00H295.60M293.70,41.10V44.90" stroke="#505050" stroke-width="0.8"/>
<path d="M310.40,88.00H314.20M312.30,86.10V89.90" stroke="#505050" stroke-width="0.8"/>
<path d="M329.00,131.60H332.80M330.90,129.70V133.50" stroke="#505050" stroke-width="0.8"/>
<path d="M347.60,163.50H351.40M349.50,161.60V165.40" stroke="#505050" stroke-width="0.8"/>
<polyline points="256.50,12.30 275.10,24.70 293.70,43.00 312.30,82.00 330.90,124.50 349.50,144.50 368.10,144.50 386.70,144.50 405.30,144.50 423.90,144.50 442.50,144.50" fill="none" stroke="#a85a58" stroke-width="0.7"/>
<path d="M254.60,10.78L258.40,10.78L256.50,14.20Z" fill="none" stroke="#c47a78" stroke-width="0.7"/>
<path d="M273.20,23.18L277.00,23.18L275.10,26.60Z" fill="none" stroke="#c47a78" stroke-width="0.7"/>
<path d="M291.80,41.48L295.60,41.48L293.70,44.90Z" fill="none" stroke="#c47a78" stroke-width="0.7"/>
<path d="M310.40,80.48L314.20,80.48L312.30,83.90Z" fill="none" stroke="#c47a78" stroke-width="0.7"/>
<path d="M329.00,122.98L332.80,122.98L330.90,126.40Z" fill="none" stroke="#c47a78" stroke-width="0.7"/>
<path d="M347.60,142.98L351.40,142.98L349.50,146.40Z" fill="none" stroke="#c47a78" stroke-width="0.7"/>
<path d="M366.20,142.98L370.00,142.98L368.10,146.40Z" fill="none" stroke="#c47a78" stroke-width="0.7"/>
<path d="M384.80,142.98L388.60,142.98L386.70,146.40Z" fill="none" stroke="#c47a78" stroke-width="0.7"/>
<path d="M403.40,142.98L407.20,142.98L405.30,146.40Z" fill="none" stroke="#c47a78" stroke-width="0.7"/>
<path d="M422.00,142.98L425.80,142.98L423.90,146.40Z" fill="none" stroke="#c47a78" stroke-width="0.7"/>
<path d="M440.60,142.98L444.40,142.98L442.50,146.40Z" fill="none" stroke="#c47a78" stroke-width="0.7"/>
<polyline points="256.50,12.30 275.10,24.70 293.70,43.00 312.30,84.00 330.90,128.00 349.50,144.50 368.10,144.50 386.70,144.50 405.30,144.50 423.90,144.50 442.50,144.50" fill="none" stroke="#a85a58" stroke-width="0.6" stroke-dasharray="1.6 1.2"/>
<path d="M254.60,10.78L258.40,10.78L256.50,14.20Z" fill="none" stroke="#c47a78" stroke-width="0.7"/>
<path d="M273.20,23.18L277.00,23.18L275.10,26.60Z" fill="none" stroke="#c47a78" stroke-width="0.7"/>
<path d="M291.80,41.48L295.60,41.48L293.70,44.90Z" fill="none" stroke="#c47a78" stroke-width="0.7"/>
<path d="M310.40,82.48L314.20,82.48L312.30,85.90Z" fill="none" stroke="#c47a78" stroke-width="0.7"/>
<path d="M329.00,126.48L332.80,126.48L330.90,129.90Z" fill="none" stroke="#c47a78" stroke-width="0.7"/>
<path d="M347.60,142.98L351.40,142.98L349.50,146.40Z" fill="none" stroke="#c47a78" stroke-width="0.7"/>
<path d="M366.20,142.98L370.00,142.98L368.10,146.40Z" fill="none" stroke="#c47a78" stroke-width="0.7"/>
<path d="M384.80,142.98L388.60,142.98L386.70,146.40Z" fill="none" stroke="#c47a78" stroke-width="0.7"/>
<path d="M403.40,142.98L407.20,142.98L405.30,146.40Z" fill="none" stroke="#c47a78" stroke-width="0.7"/>
<path d="M422.00,142.98L425.80,142.98L423.90,146.40Z" fill="none" stroke="#c47a78" stroke-width="0.7"/>
<path d="M440.60,142.98L444.40,142.98L442.50,146.40Z" fill="none" stroke="#c47a78" stroke-width="0.7"/>
<polyline points="256.50,12.30 275.10,24.70 293.70,43.00 312.30,70.70 330.90,98.30 349.50,103.70 368.10,108.90 386.70,108.90 405.30,108.90 423.90,108.90 442.50,113.20" fill="none" stroke="#5a5aa4" stroke-width="0.7"/>
<circle cx="256.50" cy="12.30" r="2.60" fill="#dcdcea" stroke="#5a5aa4" stroke-width="0.7"/>
<circle cx="275.10" cy="24.70" r="2.60" fill="#dcdcea" stroke="#5a5aa4" stroke-width="0.7"/>
<circle cx="293.70" cy="43.00" r="2.60" fill="#dcdcea" stroke="#5a5aa4" stroke-width="0.7"/>
<circle cx="312.30" cy="70.70" r="2.60" fill="#dcdcea" stroke="#5a5aa4" stroke-width="0.7"/>
<circle cx="330.90" cy="98.30" r="2.60" fill="#dcdcea" stroke="#5a5aa4" stroke-width="0.7"/>
<circle cx="349.50" cy="103.70" r="2.60" fill="#dcdcea" stroke="#5a5aa4" stroke-width="0.7"/>
<circle cx="368.10" cy="108.90" r="2.60" fill="#dcdcea" stroke="#5a5aa4" stroke-width="0.7"/>
<circle cx="386.70" cy="108.90" r="2.60" fill="#dcdcea" stroke="#5a5aa4" stroke-width="0.7"/>
<circle cx="405.30" cy="108.90" r="2.60" fill="#dcdcea" stroke="#5a5aa4" stroke-width="0.7"/>
<circle cx="423.90" cy="108.90" r="2.60" fill="#dcdcea" stroke="#5a5aa4" stroke-width="0.7"/>
<circle cx="442.50" cy="113.20" r="2.60" fill="#dcdcea" stroke="#5a5aa4" stroke-width="0.7"/>
<polyline points="256.50,12.30 275.10,24.70 293.70,43.00 312.30,71.50 330.90,100.70 349.50,108.40 368.10,108.90 386.70,108.90 405.30,108.90 423.90,108.90 442.50,113.20" fill="none" stroke="#5a5aa4" stroke-width="0.6" stroke-dasharray="1.6 1.2"/>
<circle cx="256.50" cy="12.30" r="2.60" fill="#dcdcea" stroke="#5a5aa4" stroke-width="0.7"/>
<circle cx="275.10" cy="24.70" r="2.60" fill="#dcdcea" stroke="#5a5aa4" stroke-width="0.7"/>
<circle cx="293.70" cy="43.00" r="2.60" fill="#dcdcea" stroke="#5a5aa4" stroke-width="0.7"/>
<circle cx="312.30" cy="71.50" r="2.60" fill="#dcdcea" stroke="#5a5aa4" stroke-width="0.7"/>
<circle cx="330.90" cy="100.70" r="2.60" fill="#dcdcea" stroke="#5a5aa4" stroke-width="0.7"/>
<circle cx="349.50" cy="108.40" r="2.60" fill="#dcdcea" stroke="#5a5aa4" stroke-width="0.7"/>
<circle cx="368.10" cy="108.90" r="2.60" fill="#dcdcea" stroke="#5a5aa4" stroke-width="0.7"/>
<circle cx="386.70" cy="108.90" r="2.60" fill="#dcdcea" stroke="#5a5aa4" stroke-width="0.7"/>
<circle cx="405.30" cy="108.90" r="2.60" fill="#dcdcea" stroke="#5a5aa4" stroke-width="0.7"/>
<circle cx="423.90" cy="108.90" r="2.60" fill="#dcdcea" stroke="#5a5aa4" stroke-width="0.7"/>
<circle cx="442.50" cy="113.20" r="2.60" fill="#dcdcea" stroke="#5a5aa4" stroke-width="0.7"/>
<polyline points="256.50,12.30 275.10,24.70 293.70,43.00 312.30,76.00 330.90,106.20 349.50,118.40 368.10,118.40 386.70,118.40 405.30,124.70 423.90,124.70 442.50,124.70" fill="none" stroke="#cc55cc" stroke-width="0.6" stroke-dasharray="1.6 1.2"/>
<path d="M256.50,10.40V14.20" stroke="#cc55cc" stroke-width="1"/>
<path d="M275.10,22.80V26.60" stroke="#cc55cc" stroke-width="1"/>
<path d="M293.70,41.10V44.90" stroke="#cc55cc" stroke-width="1"/>
<path d="M312.30,74.10V77.90" stroke="#cc55cc" stroke-width="1"/>
<path d="M330.90,104.30V108.10" stroke="#cc55cc" stroke-width="1"/>
<path d="M349.50,116.50V120.30" stroke="#cc55cc" stroke-width="1"/>
<path d="M368.10,116.50V120.30" stroke="#cc55cc" stroke-width="1"/>
<path d="M386.70,116.50V120.30" stroke="#cc55cc" stroke-width="1"/>
<path d="M405.30,122.80V126.60" stroke="#cc55cc" stroke-width="1"/>
<path d="M423.90,122.80V126.60" stroke="#cc55cc" stroke-width="1"/>
<path d="M442.50,122.80V126.60" stroke="#cc55cc" stroke-width="1"/>
<polyline points="256.50,12.30 275.10,24.70 293.70,43.00 312.30,77.00 330.90,107.80 349.50,118.40 368.10,118.40 386.70,118.40 405.30,124.70 423.90,124.70 442.50,124.70" fill="none" stroke="#cc55cc" stroke-width="0.7"/>
<path d="M256.50,10.40V14.20" stroke="#cc55cc" stroke-width="1"/>
<path d="M275.10,22.80V26.60" stroke="#cc55cc" stroke-width="1"/>
<path d="M293.70,41.10V44.90" stroke="#cc55cc" stroke-width="1"/>
<path d="M312.30,75.10V78.90" stroke="#cc55cc" stroke-width="1"/>
<path d="M330.90,105.90V109.70" stroke="#cc55cc" stroke-width="1"/>
<path d="M349.50,116.50V120.30" stroke="#cc55cc" stroke-width="1"/>
<path d="M368.10,116.50V120.30" stroke="#cc55cc" stroke-width="1"/>
<path d="M386.70,116.50V120.30" stroke="#cc55cc" stroke-width="1"/>
<path d="M405.30,122.80V126.60" stroke="#cc55cc" stroke-width="1"/>
<path d="M423.90,122.80V126.60" stroke="#cc55cc" stroke-width="1"/>
<path d="M442.50,122.80V126.60" stroke="#cc55cc" stroke-width="1"/>
<line x1="256.50" y1="6.60" x2="442.50" y2="6.60" stroke="#c4c4c4" stroke-width="1"/>
<line x1="256.50" y1="203.10" x2="442.50" y2="203.10" stroke="#8a8a8a" stroke-width="1"/>
<line x1="442.50" y1="6.10" x2="442.50" y2="203.60" stroke="#8a8a8a" stroke-width="1"/>
<line x1="256.50" y1="6.10" x2="256.50" y2="203.60" stroke="#606060" stroke-width="1"/>
<text x="256.50" y="215.00" text-anchor="middle" font-size="8.3" font-family="'Liberation Sans', Arial, sans-serif" fill="#2a2a2a" stroke="#2a2a2a" stroke-width="0.12" transform="translate(256.50,0) scale(0.885,1) translate(-256.50,0)">0.075</text>
<text x="293.70" y="215.00" text-anchor="middle" font-size="8.3" font-family="'Liberation Sans', Arial, sans-serif" fill="#2a2a2a" stroke="#2a2a2a" stroke-width="0.12" transform="translate(293.70,0) scale(0.885,1) translate(-293.70,0)">0.076</text>
<text x="330.90" y="215.00" text-anchor="middle" font-size="8.3" font-family="'Liberation Sans', Arial, sans-serif" fill="#2a2a2a" stroke="#2a2a2a" stroke-width="0.12" transform="translate(330.90,0) scale(0.885,1) translate(-330.90,0)">0.077</text>
<text x="368.10" y="215.00" text-anchor="middle" font-size="8.3" font-family="'Liberation Sans', Arial, sans-serif" fill="#2a2a2a" stroke="#2a2a2a" stroke-width="0.12" transform="translate(368.10,0) scale(0.885,1) translate(-368.10,0)">0.078</text>
<text x="405.30" y="215.00" text-anchor="middle" font-size="8.3" font-family="'Liberation Sans', Arial, sans-serif" fill="#2a2a2a" stroke="#2a2a2a" stroke-width="0.12" transform="translate(405.30,0) scale(0.885,1) translate(-405.30,0)">0.079</text>
<text x="442.50" y="215.00" text-anchor="middle" font-size="8.3" font-family="'Liberation Sans', Arial, sans-serif" fill="#2a2a2a" stroke="#2a2a2a" stroke-width="0.12" transform="translate(442.50,0) scale(0.885,1) translate(-442.50,0)">0.08</text>
<text x="253.30" y="10.70" text-anchor="end" font-size="8.2" font-family="'Liberation Sans', Arial, sans-serif" fill="#1a1a1a" stroke="#1a1a1a" stroke-width="0.15" transform="translate(253.30,0) scale(0.9,1) translate(-253.30,0)">10<tspan font-size="5.8" dy="-4.5">0</tspan></text>
<text x="253.30" y="76.20" text-anchor="end" font-size="8.2" font-family="'Liberation Sans', Arial, sans-serif" fill="#1a1a1a" stroke="#1a1a1a" stroke-width="0.15" transform="translate(253.30,0) scale(0.9,1) translate(-253.30,0)">10<tspan font-size="5.8" dy="-4.5">-1</tspan></text>
<text x="253.30" y="141.70" text-anchor="end" font-size="8.2" font-family="'Liberation Sans', Arial, sans-serif" fill="#1a1a1a" stroke="#1a1a1a" stroke-width="0.15" transform="translate(253.30,0) scale(0.9,1) translate(-253.30,0)">10<tspan font-size="5.8" dy="-4.5">-2</tspan></text>
<text x="253.30" y="207.20" text-anchor="end" font-size="8.2" font-family="'Liberation Sans', Arial, sans-serif" fill="#1a1a1a" stroke="#1a1a1a" stroke-width="0.15" transform="translate(253.30,0) scale(0.9,1) translate(-253.30,0)">10<tspan font-size="5.8" dy="-4.5">-3</tspan></text>
<text x="349.50" y="227.40" text-anchor="middle" font-size="8.8" font-family="'Liberation Sans', Arial, sans-serif" fill="#1a1a1a" stroke="#1a1a1a" stroke-width="0.15">SNR</text>
<text x="0" y="0" text-anchor="middle" font-size="10" font-family="'Liberation Sans', Arial, sans-serif" fill="#1a1a1a" stroke="#1a1a1a" stroke-width="0.15" transform="translate(236.90,104.80) rotate(-90) scale(1,0.8)">FER</text>
<rect x="400.00" y="12.50" width="37.50" height="80.50" fill="#fff" stroke="#8a8a8a" stroke-width="0.9"/>
<line x1="402.30" y1="18.80" x2="412.80" y2="18.80" stroke="#a85a58" stroke-width="0.8" stroke-opacity="0.5"/>
<path d="M405.25,16.96L409.85,16.96L407.55,21.10Z" fill="none" stroke="#c47a78" stroke-width="0.7"/>
<text x="413.80" y="21.60" font-size="7.9" font-family="'Liberation Sans', Arial, sans-serif" fill="#1a1a1a" stroke="#1a1a1a" stroke-width="0.22" transform="translate(413.80,0) scale(0.84,1) translate(-413.80,0)">Z=100</text>
<line x1="402.30" y1="28.75" x2="412.80" y2="28.75" stroke="#cc55cc" stroke-width="0.8" stroke-opacity="0.5"/>
<path d="M407.55,26.45V31.05" stroke="#cc55cc" stroke-width="1"/>
<text x="413.80" y="31.55" font-size="7.9" font-family="'Liberation Sans', Arial, sans-serif" fill="#1a1a1a" stroke="#1a1a1a" stroke-width="0.22" transform="translate(413.80,0) scale(0.84,1) translate(-413.80,0)">Z=500</text>
<line x1="402.30" y1="38.70" x2="412.80" y2="38.70" stroke="#5a5aa4" stroke-width="0.8" stroke-opacity="0.5"/>
<circle cx="407.55" cy="38.70" r="2.60" fill="#dcdcea" stroke="#5a5aa4" stroke-width="0.7"/>
<text x="413.80" y="41.50" font-size="7.9" font-family="'Liberation Sans', Arial, sans-serif" fill="#1a1a1a" stroke="#1a1a1a" stroke-width="0.22" transform="translate(413.80,0) scale(0.84,1) translate(-413.80,0)">Z=1000</text>
<line x1="402.30" y1="48.65" x2="412.80" y2="48.65" stroke="#505050" stroke-width="0.8" stroke-opacity="0.5"/>
<path d="M407.55,46.35V50.95" stroke="#505050" stroke-width="1"/>
<text x="413.80" y="51.45" font-size="7.9" font-family="'Liberation Sans', Arial, sans-serif" fill="#1a1a1a" stroke="#1a1a1a" stroke-width="0.22" transform="translate(413.80,0) scale(0.84,1) translate(-413.80,0)">Z=2500</text>
<line x1="402.30" y1="58.60" x2="412.80" y2="58.60" stroke="#a85a58" stroke-width="0.8" stroke-opacity="0.5" stroke-dasharray="1.6 1.2"/>
<path d="M405.89,57.28L409.21,57.28L407.55,60.26Z" fill="none" stroke="#c47a78" stroke-width="0.7"/>
<text x="413.80" y="61.40" font-size="7.9" font-family="'Liberation Sans', Arial, sans-serif" fill="#1a1a1a" stroke="#1a1a1a" stroke-width="0.22" transform="translate(413.80,0) scale(0.84,1) translate(-413.80,0)">Z=100</text>
<line x1="402.30" y1="68.55" x2="412.80" y2="68.55" stroke="#cc55cc" stroke-width="0.8" stroke-opacity="0.5" stroke-dasharray="1.6 1.2"/>
<path d="M407.55,66.89V70.21" stroke="#cc55cc" stroke-width="1"/>
<text x="413.80" y="71.35" font-size="7.9" font-family="'Liberation Sans', Arial, sans-serif" fill="#1a1a1a" stroke="#1a1a1a" stroke-width="0.22" transform="translate(413.80,0) scale(0.84,1) translate(-413.80,0)">Z=500</text>
<line x1="402.30" y1="78.50" x2="412.80" y2="78.50" stroke="#5a5aa4" stroke-width="0.8" stroke-opacity="0.5" stroke-dasharray="1.6 1.2"/>
<circle cx="407.55" cy="78.50" r="1.87" fill="#dcdcea" stroke="#5a5aa4" stroke-width="0.7"/>
<text x="413.80" y="81.30" font-size="7.9" font-family="'Liberation Sans', Arial, sans-serif" fill="#1a1a1a" stroke="#1a1a1a" stroke-width="0.22" transform="translate(413.80,0) scale(0.84,1) translate(-413.80,0)">Z=1000</text>
<line x1="402.30" y1="88.45" x2="412.80" y2="88.45" stroke="#505050" stroke-width="0.8" stroke-opacity="0.5" stroke-dasharray="1.6 1.2"/>
<path d="M405.89,88.45H409.21M407.55,86.79V90.11" stroke="#505050" stroke-width="0.8"/>
<text x="413.80" y="91.25" font-size="7.9" font-family="'Liberation Sans', Arial, sans-serif" fill="#1a1a1a" stroke="#1a1a1a" stroke-width="0.22" transform="translate(413.80,0) scale(0.84,1) translate(-413.80,0)">Z=2500</text></g>
<g><line x1="488" y1="51.50" x2="677.50" y2="51.50" stroke="#e3e3e3" stroke-width="1" stroke-dasharray="1 1"/>
<line x1="487.50" y1="51.50" x2="489.10" y2="51.50" stroke="#666" stroke-width="0.9"/>
<line x1="675.90" y1="51.50" x2="677.50" y2="51.50" stroke="#999" stroke-width="0.9"/>
<line x1="488" y1="39.50" x2="677.50" y2="39.50" stroke="#e3e3e3" stroke-width="1" stroke-dasharray="1 1"/>
<line x1="487.50" y1="39.50" x2="489.10" y2="39.50" stroke="#666" stroke-width="0.9"/>
<line x1="675.90" y1="39.50" x2="677.50" y2="39.50" stroke="#999" stroke-width="0.9"/>
<line x1="488" y1="31.50" x2="677.50" y2="31.50" stroke="#e3e3e3" stroke-width="1" stroke-dasharray="1 1"/>
<line x1="487.50" y1="31.50" x2="489.10" y2="31.50" stroke="#666" stroke-width="0.9"/>
<line x1="675.90" y1="31.50" x2="677.50" y2="31.50" stroke="#999" stroke-width="0.9"/>
<line x1="488" y1="25.50" x2="677.50" y2="25.50" stroke="#e3e3e3" stroke-width="1" stroke-dasharray="1 1"/>
<line x1="487.50" y1="25.50" x2="489.10" y2="25.50" stroke="#666" stroke-width="0.9"/>
<line x1="675.90" y1="25.50" x2="677.50" y2="25.50" stroke="#999" stroke-width="0.9"/>
<line x1="488" y1="19.50" x2="677.50" y2="19.50" stroke="#e3e3e3" stroke-width="1" stroke-dasharray="1 1"/>
<line x1="487.50" y1="19.50" x2="489.10" y2="19.50" stroke="#666" stroke-width="0.9"/>
<line x1="675.90" y1="19.50" x2="677.50" y2="19.50" stroke="#999" stroke-width="0.9"/>
<line x1="488" y1="15.50" x2="677.50" y2="15.50" stroke="#e3e3e3" stroke-width="1" stroke-dasharray="1 1"/>
<line x1="487.50" y1="15.50" x2="489.10" y2="15.50" stroke="#666" stroke-width="0.9"/>
<line x1="675.90" y1="15.50" x2="677.50" y2="15.50" stroke="#999" stroke-width="0.9"/>
<line x1="488" y1="11.50" x2="677.50" y2="11.50" stroke="#e3e3e3" stroke-width="1" stroke-dasharray="1 1"/>
<line x1="487.50" y1="11.50" x2="489.10" y2="11.50" stroke="#666" stroke-width="0.9"/>
<line x1="675.90" y1="11.50" x2="677.50" y2="11.50" stroke="#999" stroke-width="0.9"/>
<line x1="488" y1="8.50" x2="677.50" y2="8.50" stroke="#e3e3e3" stroke-width="1" stroke-dasharray="1 1"/>
<line x1="487.50" y1="8.50" x2="489.10" y2="8.50" stroke="#666" stroke-width="0.9"/>
<line x1="675.90" y1="8.50" x2="677.50" y2="8.50" stroke="#999" stroke-width="0.9"/>
<line x1="488" y1="116.50" x2="677.50" y2="116.50" stroke="#e3e3e3" stroke-width="1" stroke-dasharray="1 1"/>
<line x1="487.50" y1="116.50" x2="489.10" y2="116.50" stroke="#666" stroke-width="0.9"/>
<line x1="675.90" y1="116.50" x2="677.50" y2="116.50" stroke="#999" stroke-width="0.9"/>
<line x1="488" y1="104.50" x2="677.50" y2="104.50" stroke="#e3e3e3" stroke-width="1" stroke-dasharray="1 1"/>
<line x1="487.50" y1="104.50" x2="489.10" y2="104.50" stroke="#666" stroke-width="0.9"/>
<line x1="675.90" y1="104.50" x2="677.50" y2="104.50" stroke="#999" stroke-width="0.9"/>
<line x1="488" y1="96.50" x2="677.50" y2="96.50" stroke="#e3e3e3" stroke-width="1" stroke-dasharray="1 1"/>
<line x1="487.50" y1="96.50" x2="489.10" y2="96.50" stroke="#666" stroke-width="0.9"/>
<line x1="675.90" y1="96.50" x2="677.50" y2="96.50" stroke="#999" stroke-width="0.9"/>
<line x1="488" y1="90.50" x2="677.50" y2="90.50" stroke="#e3e3e3" stroke-width="1" stroke-dasharray="1 1"/>
<line x1="487.50" y1="90.50" x2="489.10" y2="90.50" stroke="#666" stroke-width="0.9"/>
<line x1="675.90" y1="90.50" x2="677.50" y2="90.50" stroke="#999" stroke-width="0.9"/>
<line x1="488" y1="85.50" x2="677.50" y2="85.50" stroke="#e3e3e3" stroke-width="1" stroke-dasharray="1 1"/>
<line x1="487.50" y1="85.50" x2="489.10" y2="85.50" stroke="#666" stroke-width="0.9"/>
<line x1="675.90" y1="85.50" x2="677.50" y2="85.50" stroke="#999" stroke-width="0.9"/>
<line x1="488" y1="80.50" x2="677.50" y2="80.50" stroke="#e3e3e3" stroke-width="1" stroke-dasharray="1 1"/>
<line x1="487.50" y1="80.50" x2="489.10" y2="80.50" stroke="#666" stroke-width="0.9"/>
<line x1="675.90" y1="80.50" x2="677.50" y2="80.50" stroke="#999" stroke-width="0.9"/>
<line x1="488" y1="77.50" x2="677.50" y2="77.50" stroke="#e3e3e3" stroke-width="1" stroke-dasharray="1 1"/>
<line x1="487.50" y1="77.50" x2="489.10" y2="77.50" stroke="#666" stroke-width="0.9"/>
<line x1="675.90" y1="77.50" x2="677.50" y2="77.50" stroke="#999" stroke-width="0.9"/>
<line x1="488" y1="73.50" x2="677.50" y2="73.50" stroke="#e3e3e3" stroke-width="1" stroke-dasharray="1 1"/>
<line x1="487.50" y1="73.50" x2="489.10" y2="73.50" stroke="#666" stroke-width="0.9"/>
<line x1="675.90" y1="73.50" x2="677.50" y2="73.50" stroke="#999" stroke-width="0.9"/>
<line x1="488" y1="181.50" x2="677.50" y2="181.50" stroke="#e3e3e3" stroke-width="1" stroke-dasharray="1 1"/>
<line x1="487.50" y1="181.50" x2="489.10" y2="181.50" stroke="#666" stroke-width="0.9"/>
<line x1="675.90" y1="181.50" x2="677.50" y2="181.50" stroke="#999" stroke-width="0.9"/>
<line x1="488" y1="170.50" x2="677.50" y2="170.50" stroke="#e3e3e3" stroke-width="1" stroke-dasharray="1 1"/>
<line x1="487.50" y1="170.50" x2="489.10" y2="170.50" stroke="#666" stroke-width="0.9"/>
<line x1="675.90" y1="170.50" x2="677.50" y2="170.50" stroke="#999" stroke-width="0.9"/>
<line x1="488" y1="162.50" x2="677.50" y2="162.50" stroke="#e3e3e3" stroke-width="1" stroke-dasharray="1 1"/>
<line x1="487.50" y1="162.50" x2="489.10" y2="162.50" stroke="#666" stroke-width="0.9"/>
<line x1="675.90" y1="162.50" x2="677.50" y2="162.50" stroke="#999" stroke-width="0.9"/>
<line x1="488" y1="155.50" x2="677.50" y2="155.50" stroke="#e3e3e3" stroke-width="1" stroke-dasharray="1 1"/>
<line x1="487.50" y1="155.50" x2="489.10" y2="155.50" stroke="#666" stroke-width="0.9"/>
<line x1="675.90" y1="155.50" x2="677.50" y2="155.50" stroke="#999" stroke-width="0.9"/>
<line x1="488" y1="150.50" x2="677.50" y2="150.50" stroke="#e3e3e3" stroke-width="1" stroke-dasharray="1 1"/>
<line x1="487.50" y1="150.50" x2="489.10" y2="150.50" stroke="#666" stroke-width="0.9"/>
<line x1="675.90" y1="150.50" x2="677.50" y2="150.50" stroke="#999" stroke-width="0.9"/>
<line x1="488" y1="146.50" x2="677.50" y2="146.50" stroke="#e3e3e3" stroke-width="1" stroke-dasharray="1 1"/>
<line x1="487.50" y1="146.50" x2="489.10" y2="146.50" stroke="#666" stroke-width="0.9"/>
<line x1="675.90" y1="146.50" x2="677.50" y2="146.50" stroke="#999" stroke-width="0.9"/>
<line x1="488" y1="142.50" x2="677.50" y2="142.50" stroke="#e3e3e3" stroke-width="1" stroke-dasharray="1 1"/>
<line x1="487.50" y1="142.50" x2="489.10" y2="142.50" stroke="#666" stroke-width="0.9"/>
<line x1="675.90" y1="142.50" x2="677.50" y2="142.50" stroke="#999" stroke-width="0.9"/>
<line x1="488" y1="139.50" x2="677.50" y2="139.50" stroke="#e3e3e3" stroke-width="1" stroke-dasharray="1 1"/>
<line x1="487.50" y1="139.50" x2="489.10" y2="139.50" stroke="#666" stroke-width="0.9"/>
<line x1="675.90" y1="139.50" x2="677.50" y2="139.50" stroke="#999" stroke-width="0.9"/>
<line x1="487.50" y1="70.50" x2="677.50" y2="70.50" stroke="#e6e6e6" stroke-width="1"/>
<line x1="487.50" y1="70.50" x2="490.00" y2="70.50" stroke="#444" stroke-width="1"/>
<line x1="675.00" y1="70.50" x2="677.50" y2="70.50" stroke="#666" stroke-width="1"/>
<line x1="487.50" y1="136.50" x2="677.50" y2="136.50" stroke="#e6e6e6" stroke-width="1"/>
<line x1="487.50" y1="136.50" x2="490.00" y2="136.50" stroke="#444" stroke-width="1"/>
<line x1="675.00" y1="136.50" x2="677.50" y2="136.50" stroke="#666" stroke-width="1"/>
<line x1="525.50" y1="5.50" x2="525.50" y2="201.50" stroke="#f3f3f3" stroke-width="1"/>
<line x1="525.50" y1="199.00" x2="525.50" y2="201.50" stroke="#444" stroke-width="1"/>
<line x1="525.50" y1="5.50" x2="525.50" y2="8.00" stroke="#666" stroke-width="1"/>
<line x1="563.50" y1="5.50" x2="563.50" y2="201.50" stroke="#f3f3f3" stroke-width="1"/>
<line x1="563.50" y1="199.00" x2="563.50" y2="201.50" stroke="#444" stroke-width="1"/>
<line x1="563.50" y1="5.50" x2="563.50" y2="8.00" stroke="#666" stroke-width="1"/>
<line x1="601.50" y1="5.50" x2="601.50" y2="201.50" stroke="#f3f3f3" stroke-width="1"/>
<line x1="601.50" y1="199.00" x2="601.50" y2="201.50" stroke="#444" stroke-width="1"/>
<line x1="601.50" y1="5.50" x2="601.50" y2="8.00" stroke="#666" stroke-width="1"/>
<line x1="639.50" y1="5.50" x2="639.50" y2="201.50" stroke="#f3f3f3" stroke-width="1"/>
<line x1="639.50" y1="199.00" x2="639.50" y2="201.50" stroke="#444" stroke-width="1"/>
<line x1="639.50" y1="5.50" x2="639.50" y2="8.00" stroke="#666" stroke-width="1"/>
<polyline points="487.50,54.50 506.50,67.10 525.50,77.60 544.50,91.40 563.50,110.60 582.50,130.50 601.50,162.00 620.50,162.00" fill="none" stroke="#505050" stroke-width="0.7"/>
<path d="M485.60,54.50H489.40M487.50,52.60V56.40" stroke="#505050" stroke-width="0.8"/>
<path d="M504.60,67.10H508.40M506.50,65.20V69.00" stroke="#505050" stroke-width="0.8"/>
<path d="M523.60,77.60H527.40M525.50,75.70V79.50" stroke="#505050" stroke-width="0.8"/>
<path d="M542.60,91.40H546.40M544.50,89.50V93.30" stroke="#505050" stroke-width="0.8"/>
<path d="M561.60,110.60H565.40M563.50,108.70V112.50" stroke="#505050" stroke-width="0.8"/>
<path d="M580.60,130.50H584.40M582.50,128.60V132.40" stroke="#505050" stroke-width="0.8"/>
<path d="M599.60,162.00H603.40M601.50,160.10V163.90" stroke="#505050" stroke-width="0.8"/>
<path d="M618.60,162.00H622.40M620.50,160.10V163.90" stroke="#505050" stroke-width="0.8"/>
<polyline points="487.50,54.50 506.50,67.10 525.50,79.00 544.50,97.40 563.50,112.00 582.50,143.00 601.50,162.00" fill="none" stroke="#505050" stroke-width="0.6" stroke-dasharray="1.6 1.2"/>
<polyline points="487.50,39.20 506.50,45.30 525.50,57.50 544.50,67.30 563.50,80.40 582.50,100.10 601.50,116.70 620.50,131.20 639.50,142.50 658.50,162.50 677.50,162.50" fill="none" stroke="#5a5aa4" stroke-width="0.6" stroke-dasharray="1.6 1.2"/>
<circle cx="487.50" cy="39.20" r="2.70" fill="#d4d4e4" stroke="#5a5aa4" stroke-width="0.7"/>
<circle cx="506.50" cy="45.30" r="2.70" fill="#d4d4e4" stroke="#5a5aa4" stroke-width="0.7"/>
<circle cx="525.50" cy="57.50" r="2.70" fill="#d4d4e4" stroke="#5a5aa4" stroke-width="0.7"/>
<circle cx="544.50" cy="67.30" r="2.70" fill="#d4d4e4" stroke="#5a5aa4" stroke-width="0.7"/>
<circle cx="563.50" cy="80.40" r="2.70" fill="#d4d4e4" stroke="#5a5aa4" stroke-width="0.7"/>
<circle cx="582.50" cy="100.10" r="2.70" fill="#d4d4e4" stroke="#5a5aa4" stroke-width="0.7"/>
<circle cx="601.50" cy="116.70" r="2.70" fill="#d4d4e4" stroke="#5a5aa4" stroke-width="0.7"/>
<circle cx="620.50" cy="131.20" r="2.70" fill="#d4d4e4" stroke="#5a5aa4" stroke-width="0.7"/>
<circle cx="639.50" cy="142.50" r="2.70" fill="#d4d4e4" stroke="#5a5aa4" stroke-width="0.7"/>
<circle cx="658.50" cy="162.50" r="2.70" fill="#d4d4e4" stroke="#5a5aa4" stroke-width="0.7"/>
<circle cx="677.50" cy="162.50" r="2.70" fill="#d4d4e4" stroke="#5a5aa4" stroke-width="0.7"/>
<polyline points="487.50,39.20 506.50,45.30 525.50,57.50 544.50,67.30 563.50,80.40 582.50,100.10 601.50,116.70 620.50,131.20 639.50,142.50 658.50,162.50 677.50,162.50" fill="none" stroke="#5a5aa4" stroke-width="0.7"/>
<circle cx="487.50" cy="39.20" r="2.70" fill="#d4d4e4" stroke="#5a5aa4" stroke-width="0.7"/>
<circle cx="506.50" cy="45.30" r="2.70" fill="#d4d4e4" stroke="#5a5aa4" stroke-width="0.7"/>
<circle cx="525.50" cy="57.50" r="2.70" fill="#d4d4e4" stroke="#5a5aa4" stroke-width="0.7"/>
<circle cx="544.50" cy="67.30" r="2.70" fill="#d4d4e4" stroke="#5a5aa4" stroke-width="0.7"/>
<circle cx="563.50" cy="80.40" r="2.70" fill="#d4d4e4" stroke="#5a5aa4" stroke-width="0.7"/>
<circle cx="582.50" cy="100.10" r="2.70" fill="#d4d4e4" stroke="#5a5aa4" stroke-width="0.7"/>
<circle cx="601.50" cy="116.70" r="2.70" fill="#d4d4e4" stroke="#5a5aa4" stroke-width="0.7"/>
<circle cx="620.50" cy="131.20" r="2.70" fill="#d4d4e4" stroke="#5a5aa4" stroke-width="0.7"/>
<circle cx="639.50" cy="142.50" r="2.70" fill="#d4d4e4" stroke="#5a5aa4" stroke-width="0.7"/>
<circle cx="658.50" cy="162.50" r="2.70" fill="#d4d4e4" stroke="#5a5aa4" stroke-width="0.7"/>
<circle cx="677.50" cy="162.50" r="2.70" fill="#d4d4e4" stroke="#5a5aa4" stroke-width="0.7"/>
<polyline points="487.50,30.00 506.50,37.00 525.50,45.00 544.50,56.50 563.50,65.50 582.50,79.00 601.50,100.10 620.50,110.00 639.50,123.70 658.50,143.10 677.50,143.10" fill="none" stroke="#a85a58" stroke-width="0.6" stroke-dasharray="1.6 1.2"/>
<path d="M485.60,28.48L489.40,28.48L487.50,31.90Z" fill="none" stroke="#c47a78" stroke-width="0.7"/>
<path d="M504.60,35.48L508.40,35.48L506.50,38.90Z" fill="none" stroke="#c47a78" stroke-width="0.7"/>
<path d="M523.60,43.48L527.40,43.48L525.50,46.90Z" fill="none" stroke="#c47a78" stroke-width="0.7"/>
<path d="M542.60,54.98L546.40,54.98L544.50,58.40Z" fill="none" stroke="#c47a78" stroke-width="0.7"/>
<path d="M561.60,63.98L565.40,63.98L563.50,67.40Z" fill="none" stroke="#c47a78" stroke-width="0.7"/>
<path d="M580.60,77.48L584.40,77.48L582.50,80.90Z" fill="none" stroke="#c47a78" stroke-width="0.7"/>
<path d="M599.60,98.58L603.40,98.58L601.50,102.00Z" fill="none" stroke="#c47a78" stroke-width="0.7"/>
<path d="M618.60,108.48L622.40,108.48L620.50,111.90Z" fill="none" stroke="#c47a78" stroke-width="0.7"/>
<path d="M637.60,122.18L641.40,122.18L639.50,125.60Z" fill="none" stroke="#c47a78" stroke-width="0.7"/>
<path d="M656.60,141.58L660.40,141.58L658.50,145.00Z" fill="none" stroke="#c47a78" stroke-width="0.7"/>
<path d="M675.60,141.58L679.40,141.58L677.50,145.00Z" fill="none" stroke="#c47a78" stroke-width="0.7"/>
<polyline points="487.50,29.00 506.50,35.80 525.50,43.30 544.50,55.80 563.50,64.90 582.50,77.70 601.50,100.10 620.50,107.60 639.50,123.70 658.50,143.10 677.50,143.10" fill="none" stroke="#a85a58" stroke-width="0.7"/>
<path d="M485.60,27.48L489.40,27.48L487.50,30.90Z" fill="none" stroke="#c47a78" stroke-width="0.7"/>
<path d="M504.60,34.28L508.40,34.28L506.50,37.70Z" fill="none" stroke="#c47a78" stroke-width="0.7"/>
<path d="M523.60,41.78L527.40,41.78L525.50,45.20Z" fill="none" stroke="#c47a78" stroke-width="0.7"/>
<path d="M542.60,54.28L546.40,54.28L544.50,57.70Z" fill="none" stroke="#c47a78" stroke-width="0.7"/>
<path d="M561.60,63.38L565.40,63.38L563.50,66.80Z" fill="none" stroke="#c47a78" stroke-width="0.7"/>
<path d="M580.60,76.18L584.40,76.18L582.50,79.60Z" fill="none" stroke="#c47a78" stroke-width="0.7"/>
<path d="M599.60,98.58L603.40,98.58L601.50,102.00Z" fill="none" stroke="#c47a78" stroke-width="0.7"/>
<path d="M618.60,106.08L622.40,106.08L620.50,109.50Z" fill="none" stroke="#c47a78" stroke-width="0.7"/>
<path d="M637.60,122.18L641.40,122.18L639.50,125.60Z" fill="none" stroke="#c47a78" stroke-width="0.7"/>
<path d="M656.60,141.58L660.40,141.58L658.50,145.00Z" fill="none" stroke="#c47a78" stroke-width="0.7"/>
<path d="M675.60,141.58L679.40,141.58L677.50,145.00Z" fill="none" stroke="#c47a78" stroke-width="0.7"/>
<polyline points="487.50,30.50 506.50,38.50 525.50,46.00 544.50,56.00 563.50,65.50 582.50,77.00 601.50,88.00 620.50,107.60 639.50,131.20 658.50,131.20 677.50,131.20" fill="none" stroke="#cc55cc" stroke-width="0.6" stroke-dasharray="1.6 1.2"/>
<path d="M485.60,30.50H489.40M487.50,28.60V32.40M486.17,29.17L488.83,31.83M486.17,31.83L488.83,29.17" stroke="#cc55cc" stroke-width="0.7"/>
<path d="M504.60,38.50H508.40M506.50,36.60V40.40M505.17,37.17L507.83,39.83M505.17,39.83L507.83,37.17" stroke="#cc55cc" stroke-width="0.7"/>
<path d="M523.60,46.00H527.40M525.50,44.10V47.90M524.17,44.67L526.83,47.33M524.17,47.33L526.83,44.67" stroke="#cc55cc" stroke-width="0.7"/>
<path d="M542.60,56.00H546.40M544.50,54.10V57.90M543.17,54.67L545.83,57.33M543.17,57.33L545.83,54.67" stroke="#cc55cc" stroke-width="0.7"/>
<path d="M561.60,65.50H565.40M563.50,63.60V67.40M562.17,64.17L564.83,66.83M562.17,66.83L564.83,64.17" stroke="#cc55cc" stroke-width="0.7"/>
<path d="M580.60,77.00H584.40M582.50,75.10V78.90M581.17,75.67L583.83,78.33M581.17,78.33L583.83,75.67" stroke="#cc55cc" stroke-width="0.7"/>
<path d="M599.60,88.00H603.40M601.50,86.10V89.90M600.17,86.67L602.83,89.33M600.17,89.33L602.83,86.67" stroke="#cc55cc" stroke-width="0.7"/>
<path d="M618.60,107.60H622.40M620.50,105.70V109.50M619.17,106.27L621.83,108.93M619.17,108.93L621.83,106.27" stroke="#cc55cc" stroke-width="0.7"/>
<path d="M637.60,131.20H641.40M639.50,129.30V133.10M638.17,129.87L640.83,132.53M638.17,132.53L640.83,129.87" stroke="#cc55cc" stroke-width="0.7"/>
<path d="M656.60,131.20H660.40M658.50,129.30V133.10M657.17,129.87L659.83,132.53M657.17,132.53L659.83,129.87" stroke="#cc55cc" stroke-width="0.7"/>
<path d="M675.60,131.20H679.40M677.50,129.30V133.10M676.17,129.87L678.83,132.53M676.17,132.53L678.83,129.87" stroke="#cc55cc" stroke-width="0.7"/>
<polyline points="487.50,29.60 506.50,39.50 525.50,44.70 544.50,53.80 563.50,64.20 582.50,74.80 601.50,85.50 620.50,97.20 639.50,111.90 658.50,123.30 677.50,143.10" fill="none" stroke="#cc55cc" stroke-width="0.7"/>
<path d="M485.60,29.60H489.40M487.50,27.70V31.50M486.17,28.27L488.83,30.93M486.17,30.93L488.83,28.27" stroke="#cc55cc" stroke-width="0.7"/>
<path d="M504.60,39.50H508.40M506.50,37.60V41.40M505.17,38.17L507.83,40.83M505.17,40.83L507.83,38.17" stroke="#cc55cc" stroke-width="0.7"/>
<path d="M523.60,44.70H527.40M525.50,42.80V46.60M524.17,43.37L526.83,46.03M524.17,46.03L526.83,43.37" stroke="#cc55cc" stroke-width="0.7"/>
<path d="M542.60,53.80H546.40M544.50,51.90V55.70M543.17,52.47L545.83,55.13M543.17,55.13L545.83,52.47" stroke="#cc55cc" stroke-width="0.7"/>
<path d="M561.60,64.20H565.40M563.50,62.30V66.10M562.17,62.87L564.83,65.53M562.17,65.53L564.83,62.87" stroke="#cc55cc" stroke-width="0.7"/>
<path d="M580.60,74.80H584.40M582.50,72.90V76.70M581.17,73.47L583.83,76.13M581.17,76.13L583.83,73.47" stroke="#cc55cc" stroke-width="0.7"/>
<path d="M599.60,85.50H603.40M601.50,83.60V87.40M600.17,84.17L602.83,86.83M600.17,86.83L602.83,84.17" stroke="#cc55cc" stroke-width="0.7"/>
<path d="M618.60,97.20H622.40M620.50,95.30V99.10M619.17,95.87L621.83,98.53M619.17,98.53L621.83,95.87" stroke="#cc55cc" stroke-width="0.7"/>
<path d="M637.60,111.90H641.40M639.50,110.00V113.80M638.17,110.57L640.83,113.23M638.17,113.23L640.83,110.57" stroke="#cc55cc" stroke-width="0.7"/>
<path d="M656.60,123.30H660.40M658.50,121.40V125.20M657.17,121.97L659.83,124.63M657.17,124.63L659.83,121.97" stroke="#cc55cc" stroke-width="0.7"/>
<path d="M675.60,143.10H679.40M677.50,141.20V145.00M676.17,141.77L678.83,144.43M676.17,144.43L678.83,141.77" stroke="#cc55cc" stroke-width="0.7"/>
<line x1="487.50" y1="5.50" x2="677.50" y2="5.50" stroke="#999" stroke-width="1"/>
<line x1="487.50" y1="201.50" x2="677.50" y2="201.50" stroke="#cccccc" stroke-width="1"/>
<line x1="677.50" y1="5.00" x2="677.50" y2="202.00" stroke="#a0a0a0" stroke-width="1"/>
<line x1="487.50" y1="5.00" x2="487.50" y2="202.00" stroke="#ececec" stroke-width="1"/>
<text x="487.50" y="213.50" text-anchor="middle" font-size="8.3" font-family="'Liberation Sans', Arial, sans-serif" fill="#2a2a2a" stroke="#2a2a2a" stroke-width="0.12" transform="translate(487.50,0) scale(0.9,1) translate(-487.50,0)">0.03</text>
<text x="525.50" y="213.50" text-anchor="middle" font-size="8.3" font-family="'Liberation Sans', Arial, sans-serif" fill="#2a2a2a" stroke="#2a2a2a" stroke-width="0.12" transform="translate(525.50,0) scale(0.9,1) translate(-525.50,0)">0.0302</text>
<text x="563.50" y="213.50" text-anchor="middle" font-size="8.3" font-family="'Liberation Sans', Arial, sans-serif" fill="#2a2a2a" stroke="#2a2a2a" stroke-width="0.12" transform="translate(563.50,0) scale(0.9,1) translate(-563.50,0)">0.0304</text>
<text x="601.50" y="213.50" text-anchor="middle" font-size="8.3" font-family="'Liberation Sans', Arial, sans-serif" fill="#2a2a2a" stroke="#2a2a2a" stroke-width="0.12" transform="translate(601.50,0) scale(0.9,1) translate(-601.50,0)">0.0306</text>
<text x="639.50" y="213.50" text-anchor="middle" font-size="8.3" font-family="'Liberation Sans', Arial, sans-serif" fill="#2a2a2a" stroke="#2a2a2a" stroke-width="0.12" transform="translate(639.50,0) scale(0.9,1) translate(-639.50,0)">0.0308</text>
<text x="676.30" y="213.50" text-anchor="middle" font-size="8.3" font-family="'Liberation Sans', Arial, sans-serif" fill="#2a2a2a" stroke="#2a2a2a" stroke-width="0.12" transform="translate(676.30,0) scale(0.9,1) translate(-676.30,0)">0.031</text>
<text x="484.30" y="10.10" text-anchor="end" font-size="8.2" font-family="'Liberation Sans', Arial, sans-serif" fill="#1a1a1a" stroke="#1a1a1a" stroke-width="0.15" transform="translate(484.30,0) scale(0.9,1) translate(-484.30,0)">10<tspan font-size="5.8" dy="-4.5">0</tspan></text>
<text x="484.30" y="75.43" text-anchor="end" font-size="8.2" font-family="'Liberation Sans', Arial, sans-serif" fill="#1a1a1a" stroke="#1a1a1a" stroke-width="0.15" transform="translate(484.30,0) scale(0.9,1) translate(-484.30,0)">10<tspan font-size="5.8" dy="-4.5">-1</tspan></text>
<text x="484.30" y="140.77" text-anchor="end" font-size="8.2" font-family="'Liberation Sans', Arial, sans-serif" fill="#1a1a1a" stroke="#1a1a1a" stroke-width="0.15" transform="translate(484.30,0) scale(0.9,1) translate(-484.30,0)">10<tspan font-size="5.8" dy="-4.5">-2</tspan></text>
<text x="484.30" y="206.10" text-anchor="end" font-size="8.2" font-family="'Liberation Sans', Arial, sans-serif" fill="#1a1a1a" stroke="#1a1a1a" stroke-width="0.15" transform="translate(484.30,0) scale(0.9,1) translate(-484.30,0)">10<tspan font-size="5.8" dy="-4.5">-3</tspan></text>
<text x="582.50" y="226.40" text-anchor="middle" font-size="8.8" font-family="'Liberation Sans', Arial, sans-serif" fill="#1a1a1a" stroke="#1a1a1a" stroke-width="0.15">SNR</text>
<text x="0" y="0" text-anchor="middle" font-size="10" font-family="'Liberation Sans', Arial, sans-serif" fill="#1a1a1a" stroke="#1a1a1a" stroke-width="0.15" transform="translate(466.10,102.80) rotate(-90) scale(1,0.8)">FER</text>
<rect x="634.50" y="10.50" width="37.50" height="81.50" fill="#fff" stroke="#8a8a8a" stroke-width="0.9"/>
<line x1="636.00" y1="17.30" x2="646.50" y2="17.30" stroke="#a85a58" stroke-width="0.8" stroke-opacity="1.0"/>
<path d="M638.95,15.46L643.55,15.46L641.25,19.60Z" fill="none" stroke="#c47a78" stroke-width="0.7"/>
<text x="647.80" y="20.10" font-size="7.9" font-family="'Liberation Sans', Arial, sans-serif" fill="#1a1a1a" stroke="#1a1a1a" stroke-width="0.22" transform="translate(647.80,0) scale(0.84,1) translate(-647.80,0)">Z=100</text>
<line x1="636.00" y1="27.24" x2="646.50" y2="27.24" stroke="#cc55cc" stroke-width="0.8" stroke-opacity="1.0"/>
<path d="M638.95,27.24H643.55M641.25,24.94V29.54M639.64,25.63L642.86,28.85M639.64,28.85L642.86,25.63" stroke="#cc55cc" stroke-width="0.7"/>
<text x="647.80" y="30.04" font-size="7.9" font-family="'Liberation Sans', Arial, sans-serif" fill="#1a1a1a" stroke="#1a1a1a" stroke-width="0.22" transform="translate(647.80,0) scale(0.84,1) translate(-647.80,0)">Z=500</text>
<line x1="636.00" y1="37.18" x2="646.50" y2="37.18" stroke="#5a5aa4" stroke-width="0.8" stroke-opacity="1.0"/>
<circle cx="641.25" cy="37.18" r="2.70" fill="#d4d4e4" stroke="#5a5aa4" stroke-width="0.7"/>
<text x="647.80" y="39.98" font-size="7.9" font-family="'Liberation Sans', Arial, sans-serif" fill="#1a1a1a" stroke="#1a1a1a" stroke-width="0.22" transform="translate(647.80,0) scale(0.84,1) translate(-647.80,0)">Z=1000</text>
<line x1="636.00" y1="47.12" x2="646.50" y2="47.12" stroke="#505050" stroke-width="0.8" stroke-opacity="1.0"/>
<text x="647.80" y="49.92" font-size="7.9" font-family="'Liberation Sans', Arial, sans-serif" fill="#1a1a1a" stroke="#1a1a1a" stroke-width="0.22" transform="translate(647.80,0) scale(0.84,1) translate(-647.80,0)">Z=2500</text>
<line x1="636.00" y1="57.06" x2="646.50" y2="57.06" stroke="#a85a58" stroke-width="0.8" stroke-opacity="1.0" stroke-dasharray="1.6 1.2"/>
<path d="M639.41,55.59L643.09,55.59L641.25,58.90Z" fill="none" stroke="#c47a78" stroke-width="0.7"/>
<text x="647.80" y="59.86" font-size="7.9" font-family="'Liberation Sans', Arial, sans-serif" fill="#1a1a1a" stroke="#1a1a1a" stroke-width="0.22" transform="translate(647.80,0) scale(0.84,1) translate(-647.80,0)">Z=100</text>
<line x1="636.00" y1="67.00" x2="646.50" y2="67.00" stroke="#cc55cc" stroke-width="0.8" stroke-opacity="1.0" stroke-dasharray="1.6 1.2"/>
<path d="M639.41,67.00H643.09M641.25,65.16V68.84M639.96,65.71L642.54,68.29M639.96,68.29L642.54,65.71" stroke="#cc55cc" stroke-width="0.7"/>
<text x="647.80" y="69.80" font-size="7.9" font-family="'Liberation Sans', Arial, sans-serif" fill="#1a1a1a" stroke="#1a1a1a" stroke-width="0.22" transform="translate(647.80,0) scale(0.84,1) translate(-647.80,0)">Z=500</text>
<line x1="636.00" y1="76.94" x2="646.50" y2="76.94" stroke="#5a5aa4" stroke-width="0.8" stroke-opacity="1.0" stroke-dasharray="1.6 1.2"/>
<circle cx="641.25" cy="76.94" r="2.16" fill="#d4d4e4" stroke="#5a5aa4" stroke-width="0.7"/>
<text x="647.80" y="79.74" font-size="7.9" font-family="'Liberation Sans', Arial, sans-serif" fill="#1a1a1a" stroke="#1a1a1a" stroke-width="0.22" transform="translate(647.80,0) scale(0.84,1) translate(-647.80,0)">Z=1000</text>
<line x1="636.00" y1="86.88" x2="646.50" y2="86.88" stroke="#505050" stroke-width="0.8" stroke-opacity="1.0" stroke-dasharray="1.6 1.2"/>
<text x="647.80" y="89.68" font-size="7.9" font-family="'Liberation Sans', Arial, sans-serif" fill="#1a1a1a" stroke="#1a1a1a" stroke-width="0.22" transform="translate(647.80,0) scale(0.84,1) translate(-647.80,0)">Z=2500</text></g>
<text x="10.90" y="249.30" font-size="17.4" font-family="'Liberation Serif', 'Times New Roman', serif" fill="#111" textLength="18.6" lengthAdjust="spacingAndGlyphs">(a)</text>
<text x="41.40" y="249.30" font-size="17.4" font-family="'Liberation Serif', 'Times New Roman', serif" fill="#111" textLength="160.8" lengthAdjust="spacingAndGlyphs">R = 0.1, iterations = 50</text>
<text x="236.90" y="249.30" font-size="17.4" font-family="'Liberation Serif', 'Times New Roman', serif" fill="#111" textLength="196.0" lengthAdjust="spacingAndGlyphs">(b) R = 0.05, iterations = 75</text>
<text x="476.00" y="249.30" font-size="17.4" font-family="'Liberation Serif', 'Times New Roman', serif" fill="#111" textLength="203.6" lengthAdjust="spacingAndGlyphs">(c) R = 0.02, iterations = 100</text>
</g>
</svg>
</div>
</body></html>
